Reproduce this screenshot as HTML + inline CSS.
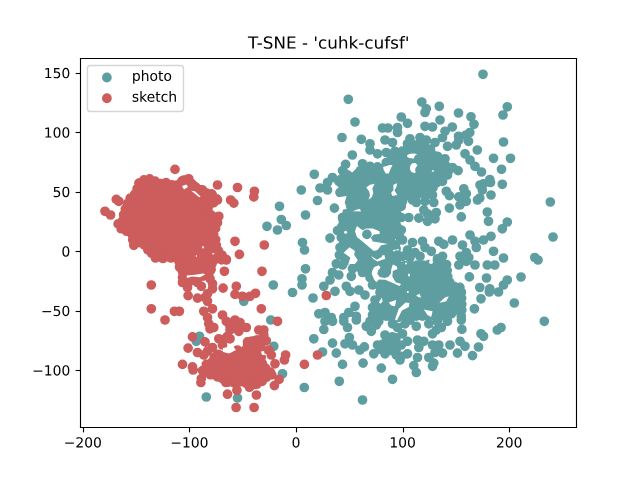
<!DOCTYPE html>
<html><head><meta charset="utf-8"><style>html,body{margin:0;padding:0;background:#fff;width:640px;height:480px;overflow:hidden;font-family:"Liberation Sans",sans-serif;}svg{display:block}</style></head><body>
<svg width="640" height="480" viewBox="0 0 460.8 345.6" version="1.1">
<defs>
<style type="text/css">*{stroke-linejoin: round; stroke-linecap: butt}</style>
</defs>
<g id="figure_1">
<g id="patch_1">
<path d="M 0 345.6 
L 460.8 345.6 
L 460.8 0 
L 0 0 
z
" style="fill: #ffffff"/>
</g>
<g id="axes_1">
<g id="patch_2">
<path d="M 57.6 307.584 
L 414.72 307.584 
L 414.72 41.472 
L 57.6 41.472 
z
" style="fill: #ffffff"/>
</g>
<g transform="scale(0.72)"><path d="M397.2 154.5 L396.9 154.7 L396.5 154.9 L396.2 155 L395.8 155.1 L395.5 155.2 L390.2 155.9 L390.2 162.3 L390.2 162.7 L390.1 163.2 L390 163.6 L389.9 164 L389.7 164.3 L389.5 164.7 L389.2 165 L388.9 165.3 L388.6 165.6 L388.2 165.9 L387.9 166.1 L379.3 170.4 L379 170.5 L378.6 170.6 L378.2 170.7 L377.9 170.8 L377.5 170.8 L377.1 170.8 L369.7 170.2 L369.2 170.1 L368.7 170 L364.1 168.4 L360.8 173.4 L360.6 173.7 L360.3 174 L360 174.3 L359.7 174.5 L359.3 174.7 L358.9 174.9 L358.5 175.1 L350.7 177.5 L350.2 177.6 L349.8 177.7 L349.4 177.7 L348.9 177.6 L348.5 177.6 L348.1 177.5 L347.7 177.3 L343.7 175.5 L341.2 178.9 L343.5 190.2 L347.2 192.8 L347.5 193 L347.8 193.3 L351.6 197.1 L351.9 197.4 L352.1 197.7 L352.4 198.1 L352.5 198.5 L352.7 198.8 L352.8 199.2 L352.8 199.6 L352.9 200 L352.8 200.4 L352.8 200.8 L352.7 201.2 L350.8 208 L350.6 208.4 L350.4 208.8 L350.2 209.2 L346.3 215.1 L342.8 221.3 L341.4 230.6 L343.9 246.9 L343.9 247.4 L343.9 247.8 L343.3 255.2 L343.3 256.1 L372.6 256.1 L373 256.1 L373.4 256.2 L373.8 256.3 L374.2 256.4 L374.6 256.6 L374.9 256.8 L375.3 257 L375.6 257.3 L375.8 257.6 L376.1 257.9 L376.3 258.3 L376.5 258.7 L376.6 259 L376.7 259.4 L376.8 259.8 L376.8 260.2 L376.8 260.7 L376.7 261.1 L376.7 261.5 L376.5 261.8 L376.4 262.2 L376.2 262.6 L375.9 262.9 L375.6 263.2 L375.3 263.5 L375 263.7 L374.7 264 L374.3 264.1 L373.9 264.3 L373.5 264.4 L373.1 264.5 L372.7 264.5 L354.2 265 L354.7 265.4 L363.8 268.8 L364.3 269 L364.7 269.3 L372.1 274.2 L372.4 274.4 L372.7 274.7 L373 275 L373.2 275.3 L373.4 275.6 L373.6 276 L373.7 276.4 L375.9 282.9 L382.6 289.6 L382.9 289.9 L383.1 290.2 L383.3 290.6 L383.5 290.9 L383.6 291.3 L383.7 291.7 L383.8 292.1 L383.8 292.5 L383.8 292.9 L383.7 293.4 L383.6 293.8 L383.5 294.1 L383.3 294.5 L383.1 294.9 L378.5 301.7 L376.4 308.1 L376.4 316.1 L449.9 316.1 L452.7 312 L452.9 311.6 L453.2 311.3 L453.5 311.1 L453.8 310.8 L454.2 310.6 L454.6 310.4 L454.9 310.3 L455.3 310.2 L455.7 310.1 L456.2 310.1 L462 310.1 L461.2 287.5 L455.7 286.9 L455.3 286.8 L454.9 286.7 L454.5 286.6 L454.1 286.4 L453.8 286.2 L453.5 286 L453.2 285.7 L449.3 281.8 L449 281.5 L448.8 281.2 L448.6 280.9 L448.4 280.5 L448.3 280.1 L448.2 279.7 L448.1 279.3 L446.5 264 L400.5 265.9 L400 265.9 L399.6 265.8 L399.2 265.7 L398.8 265.6 L398.4 265.4 L398.1 265.2 L397.7 265 L397.4 264.7 L397.1 264.4 L396.8 264.1 L396.6 263.7 L396.4 263.3 L396.3 262.9 L396.2 262.5 L396.1 262.1 L396.1 261.7 L396.1 200.3 L396.1 199.9 L396.2 199.5 L396.3 199.1 L396.4 198.7 L396.6 198.3 L396.8 198 L397.1 197.6 L397.3 197.3 L397.6 197.1 L398 196.8 L398.3 196.6 L398.7 196.4 L399.1 196.3 L399.5 196.2 L399.9 196.1 L400.3 196.1 L412 196.1 L430.2 191.6 L439.3 179 L439.4 178.9 L444.4 172.6 L444.7 172.3 L445 172 L445.3 171.8 L445.7 171.6 L446.1 171.4 L449.5 170 L442.7 162.2 L436.4 160 L436 159.9 L435.7 159.7 L435.3 159.5 L435 159.3 L434.7 159 L434.4 158.7 L434.2 158.3 L434 158 L433.8 157.6 L429.9 147.7 L408.5 147.7 L402.4 151.2 L402.2 151.3 L402.1 151.3 L402 151.3 L397.2 154.5Z" fill="#5f9ea0"/><path d="M397.2 154.5m-4.86 0a4.86 4.86 0 1 0 9.72 0a4.86 4.86 0 1 0-9.72 0M391.3 155.7m-4.86 0a4.86 4.86 0 1 0 9.72 0a4.86 4.86 0 1 0-9.72 0M390.2 160.8m-4.86 0a4.86 4.86 0 1 0 9.72 0a4.86 4.86 0 1 0-9.72 0M388 166m-4.86 0a4.86 4.86 0 1 0 9.72 0a4.86 4.86 0 1 0-9.72 0M382.6 168.7m-4.86 0a4.86 4.86 0 1 0 9.72 0a4.86 4.86 0 1 0-9.72 0M377.1 170.8m-4.86 0a4.86 4.86 0 1 0 9.72 0a4.86 4.86 0 1 0-9.72 0M371.1 170.3m-4.86 0a4.86 4.86 0 1 0 9.72 0a4.86 4.86 0 1 0-9.72 0M365.2 168.8m-4.86 0a4.86 4.86 0 1 0 9.72 0a4.86 4.86 0 1 0-9.72 0M361.4 172.5m-4.86 0a4.86 4.86 0 1 0 9.72 0a4.86 4.86 0 1 0-9.72 0M356.6 175.7m-4.86 0a4.86 4.86 0 1 0 9.72 0a4.86 4.86 0 1 0-9.72 0M350.8 177.4m-4.86 0a4.86 4.86 0 1 0 9.72 0a4.86 4.86 0 1 0-9.72 0M345.1 176.1m-4.86 0a4.86 4.86 0 1 0 9.72 0a4.86 4.86 0 1 0-9.72 0M341.2 179.1m-4.86 0a4.86 4.86 0 1 0 9.72 0a4.86 4.86 0 1 0-9.72 0M342.4 185m-4.86 0a4.86 4.86 0 1 0 9.72 0a4.86 4.86 0 1 0-9.72 0M344.1 190.6m-4.86 0a4.86 4.86 0 1 0 9.72 0a4.86 4.86 0 1 0-9.72 0M348.8 194.3m-4.86 0a4.86 4.86 0 1 0 9.72 0a4.86 4.86 0 1 0-9.72 0M352.7 198.9m-4.86 0a4.86 4.86 0 1 0 9.72 0a4.86 4.86 0 1 0-9.72 0M351.7 204.7m-4.86 0a4.86 4.86 0 1 0 9.72 0a4.86 4.86 0 1 0-9.72 0M349.5 210.3m-4.86 0a4.86 4.86 0 1 0 9.72 0a4.86 4.86 0 1 0-9.72 0M346.2 215.3m-4.86 0a4.86 4.86 0 1 0 9.72 0a4.86 4.86 0 1 0-9.72 0M343.2 220.6m-4.86 0a4.86 4.86 0 1 0 9.72 0a4.86 4.86 0 1 0-9.72 0M342 226.4m-4.86 0a4.86 4.86 0 1 0 9.72 0a4.86 4.86 0 1 0-9.72 0M341.7 232.4m-4.86 0a4.86 4.86 0 1 0 9.72 0a4.86 4.86 0 1 0-9.72 0M342.6 238.4m-4.86 0a4.86 4.86 0 1 0 9.72 0a4.86 4.86 0 1 0-9.72 0M343.5 244.3m-4.86 0a4.86 4.86 0 1 0 9.72 0a4.86 4.86 0 1 0-9.72 0M343.7 250.3m-4.86 0a4.86 4.86 0 1 0 9.72 0a4.86 4.86 0 1 0-9.72 0M343.5 256.1m-4.86 0a4.86 4.86 0 1 0 9.72 0a4.86 4.86 0 1 0-9.72 0M349.6 256.1m-4.86 0a4.86 4.86 0 1 0 9.72 0a4.86 4.86 0 1 0-9.72 0M355.6 256.1m-4.86 0a4.86 4.86 0 1 0 9.72 0a4.86 4.86 0 1 0-9.72 0M361.6 256.1m-4.86 0a4.86 4.86 0 1 0 9.72 0a4.86 4.86 0 1 0-9.72 0M367.6 256.1m-4.86 0a4.86 4.86 0 1 0 9.72 0a4.86 4.86 0 1 0-9.72 0M373.7 256.2m-4.86 0a4.86 4.86 0 1 0 9.72 0a4.86 4.86 0 1 0-9.72 0M376.8 260.8m-4.86 0a4.86 4.86 0 1 0 9.72 0a4.86 4.86 0 1 0-9.72 0M372.7 264.5m-4.86 0a4.86 4.86 0 1 0 9.72 0a4.86 4.86 0 1 0-9.72 0M366.7 264.7m-4.86 0a4.86 4.86 0 1 0 9.72 0a4.86 4.86 0 1 0-9.72 0M360.6 264.8m-4.86 0a4.86 4.86 0 1 0 9.72 0a4.86 4.86 0 1 0-9.72 0M354.6 265m-4.86 0a4.86 4.86 0 1 0 9.72 0a4.86 4.86 0 1 0-9.72 0M359.3 267.2m-4.86 0a4.86 4.86 0 1 0 9.72 0a4.86 4.86 0 1 0-9.72 0M364.9 269.4m-4.86 0a4.86 4.86 0 1 0 9.72 0a4.86 4.86 0 1 0-9.72 0M369.9 272.7m-4.86 0a4.86 4.86 0 1 0 9.72 0a4.86 4.86 0 1 0-9.72 0M373.9 277m-4.86 0a4.86 4.86 0 1 0 9.72 0a4.86 4.86 0 1 0-9.72 0M375.8 282.7m-4.86 0a4.86 4.86 0 1 0 9.72 0a4.86 4.86 0 1 0-9.72 0M380 287m-4.86 0a4.86 4.86 0 1 0 9.72 0a4.86 4.86 0 1 0-9.72 0M383.7 291.6m-4.86 0a4.86 4.86 0 1 0 9.72 0a4.86 4.86 0 1 0-9.72 0M381.6 297.1m-4.86 0a4.86 4.86 0 1 0 9.72 0a4.86 4.86 0 1 0-9.72 0M378.4 302.1m-4.86 0a4.86 4.86 0 1 0 9.72 0a4.86 4.86 0 1 0-9.72 0M376.5 307.9m-4.86 0a4.86 4.86 0 1 0 9.72 0a4.86 4.86 0 1 0-9.72 0M376.4 313.9m-4.86 0a4.86 4.86 0 1 0 9.72 0a4.86 4.86 0 1 0-9.72 0M380.2 316.1m-4.86 0a4.86 4.86 0 1 0 9.72 0a4.86 4.86 0 1 0-9.72 0M386.2 316.1m-4.86 0a4.86 4.86 0 1 0 9.72 0a4.86 4.86 0 1 0-9.72 0M392.3 316.1m-4.86 0a4.86 4.86 0 1 0 9.72 0a4.86 4.86 0 1 0-9.72 0M398.3 316.1m-4.86 0a4.86 4.86 0 1 0 9.72 0a4.86 4.86 0 1 0-9.72 0M404.3 316.1m-4.86 0a4.86 4.86 0 1 0 9.72 0a4.86 4.86 0 1 0-9.72 0M410.4 316.1m-4.86 0a4.86 4.86 0 1 0 9.72 0a4.86 4.86 0 1 0-9.72 0M416.4 316.1m-4.86 0a4.86 4.86 0 1 0 9.72 0a4.86 4.86 0 1 0-9.72 0M422.4 316.1m-4.86 0a4.86 4.86 0 1 0 9.72 0a4.86 4.86 0 1 0-9.72 0M428.4 316.1m-4.86 0a4.86 4.86 0 1 0 9.72 0a4.86 4.86 0 1 0-9.72 0M434.5 316.1m-4.86 0a4.86 4.86 0 1 0 9.72 0a4.86 4.86 0 1 0-9.72 0M440.5 316.1m-4.86 0a4.86 4.86 0 1 0 9.72 0a4.86 4.86 0 1 0-9.72 0M446.5 316.1m-4.86 0a4.86 4.86 0 1 0 9.72 0a4.86 4.86 0 1 0-9.72 0M451.4 313.9m-4.86 0a4.86 4.86 0 1 0 9.72 0a4.86 4.86 0 1 0-9.72 0M455.7 310.1m-4.86 0a4.86 4.86 0 1 0 9.72 0a4.86 4.86 0 1 0-9.72 0M461.8 310.1m-4.86 0a4.86 4.86 0 1 0 9.72 0a4.86 4.86 0 1 0-9.72 0M461.8 304.3m-4.86 0a4.86 4.86 0 1 0 9.72 0a4.86 4.86 0 1 0-9.72 0M461.6 298.2m-4.86 0a4.86 4.86 0 1 0 9.72 0a4.86 4.86 0 1 0-9.72 0M461.4 292.2m-4.86 0a4.86 4.86 0 1 0 9.72 0a4.86 4.86 0 1 0-9.72 0M459.9 287.4m-4.86 0a4.86 4.86 0 1 0 9.72 0a4.86 4.86 0 1 0-9.72 0M454 286.3m-4.86 0a4.86 4.86 0 1 0 9.72 0a4.86 4.86 0 1 0-9.72 0M449.7 282.2m-4.86 0a4.86 4.86 0 1 0 9.72 0a4.86 4.86 0 1 0-9.72 0M447.8 276.6m-4.86 0a4.86 4.86 0 1 0 9.72 0a4.86 4.86 0 1 0-9.72 0M447.2 270.6m-4.86 0a4.86 4.86 0 1 0 9.72 0a4.86 4.86 0 1 0-9.72 0M446.6 264.6m-4.86 0a4.86 4.86 0 1 0 9.72 0a4.86 4.86 0 1 0-9.72 0M441.1 264.3m-4.86 0a4.86 4.86 0 1 0 9.72 0a4.86 4.86 0 1 0-9.72 0M435 264.5m-4.86 0a4.86 4.86 0 1 0 9.72 0a4.86 4.86 0 1 0-9.72 0M429 264.7m-4.86 0a4.86 4.86 0 1 0 9.72 0a4.86 4.86 0 1 0-9.72 0M423 265m-4.86 0a4.86 4.86 0 1 0 9.72 0a4.86 4.86 0 1 0-9.72 0M417 265.2m-4.86 0a4.86 4.86 0 1 0 9.72 0a4.86 4.86 0 1 0-9.72 0M410.9 265.5m-4.86 0a4.86 4.86 0 1 0 9.72 0a4.86 4.86 0 1 0-9.72 0M404.9 265.7m-4.86 0a4.86 4.86 0 1 0 9.72 0a4.86 4.86 0 1 0-9.72 0M398.9 265.7m-4.86 0a4.86 4.86 0 1 0 9.72 0a4.86 4.86 0 1 0-9.72 0M396.1 260.9m-4.86 0a4.86 4.86 0 1 0 9.72 0a4.86 4.86 0 1 0-9.72 0M396.1 254.8m-4.86 0a4.86 4.86 0 1 0 9.72 0a4.86 4.86 0 1 0-9.72 0M396.1 248.8m-4.86 0a4.86 4.86 0 1 0 9.72 0a4.86 4.86 0 1 0-9.72 0M396.1 242.8m-4.86 0a4.86 4.86 0 1 0 9.72 0a4.86 4.86 0 1 0-9.72 0M396.1 236.7m-4.86 0a4.86 4.86 0 1 0 9.72 0a4.86 4.86 0 1 0-9.72 0M396.1 230.7m-4.86 0a4.86 4.86 0 1 0 9.72 0a4.86 4.86 0 1 0-9.72 0M396.1 224.7m-4.86 0a4.86 4.86 0 1 0 9.72 0a4.86 4.86 0 1 0-9.72 0M396.1 218.6m-4.86 0a4.86 4.86 0 1 0 9.72 0a4.86 4.86 0 1 0-9.72 0M396.1 212.6m-4.86 0a4.86 4.86 0 1 0 9.72 0a4.86 4.86 0 1 0-9.72 0M396.1 206.6m-4.86 0a4.86 4.86 0 1 0 9.72 0a4.86 4.86 0 1 0-9.72 0M396.1 200.6m-4.86 0a4.86 4.86 0 1 0 9.72 0a4.86 4.86 0 1 0-9.72 0M399.5 196.2m-4.86 0a4.86 4.86 0 1 0 9.72 0a4.86 4.86 0 1 0-9.72 0M405.5 196.1m-4.86 0a4.86 4.86 0 1 0 9.72 0a4.86 4.86 0 1 0-9.72 0M411.5 196.1m-4.86 0a4.86 4.86 0 1 0 9.72 0a4.86 4.86 0 1 0-9.72 0M417.4 194.8m-4.86 0a4.86 4.86 0 1 0 9.72 0a4.86 4.86 0 1 0-9.72 0M423.2 193.3m-4.86 0a4.86 4.86 0 1 0 9.72 0a4.86 4.86 0 1 0-9.72 0M429.1 191.8m-4.86 0a4.86 4.86 0 1 0 9.72 0a4.86 4.86 0 1 0-9.72 0M433.1 187.6m-4.86 0a4.86 4.86 0 1 0 9.72 0a4.86 4.86 0 1 0-9.72 0M436.6 182.7m-4.86 0a4.86 4.86 0 1 0 9.72 0a4.86 4.86 0 1 0-9.72 0M440.2 177.9m-4.86 0a4.86 4.86 0 1 0 9.72 0a4.86 4.86 0 1 0-9.72 0M444 173.2m-4.86 0a4.86 4.86 0 1 0 9.72 0a4.86 4.86 0 1 0-9.72 0M449.1 170.1m-4.86 0a4.86 4.86 0 1 0 9.72 0a4.86 4.86 0 1 0-9.72 0M445.8 165.7m-4.86 0a4.86 4.86 0 1 0 9.72 0a4.86 4.86 0 1 0-9.72 0M441.5 161.7m-4.86 0a4.86 4.86 0 1 0 9.72 0a4.86 4.86 0 1 0-9.72 0M435.8 159.8m-4.86 0a4.86 4.86 0 1 0 9.72 0a4.86 4.86 0 1 0-9.72 0M432.7 154.8m-4.86 0a4.86 4.86 0 1 0 9.72 0a4.86 4.86 0 1 0-9.72 0M430.5 149.2m-4.86 0a4.86 4.86 0 1 0 9.72 0a4.86 4.86 0 1 0-9.72 0M425.4 147.7m-4.86 0a4.86 4.86 0 1 0 9.72 0a4.86 4.86 0 1 0-9.72 0M419.4 147.7m-4.86 0a4.86 4.86 0 1 0 9.72 0a4.86 4.86 0 1 0-9.72 0M413.4 147.7m-4.86 0a4.86 4.86 0 1 0 9.72 0a4.86 4.86 0 1 0-9.72 0M407.5 148.3m-4.86 0a4.86 4.86 0 1 0 9.72 0a4.86 4.86 0 1 0-9.72 0M402.2 151.2m-4.86 0a4.86 4.86 0 1 0 9.72 0a4.86 4.86 0 1 0-9.72 0" fill="#5f9ea0"/><path d="M385 349.9 L385.4 349.9 L396.1 351.1 L396.1 335.7 L387.3 338.4 L380.9 347 L379.7 349.9 L385 349.9Z" fill="#5f9ea0"/><path d="M385 349.9m-4.86 0a4.86 4.86 0 1 0 9.72 0a4.86 4.86 0 1 0-9.72 0M391 350.5m-4.86 0a4.86 4.86 0 1 0 9.72 0a4.86 4.86 0 1 0-9.72 0M396.1 350m-4.86 0a4.86 4.86 0 1 0 9.72 0a4.86 4.86 0 1 0-9.72 0M396.1 343.9m-4.86 0a4.86 4.86 0 1 0 9.72 0a4.86 4.86 0 1 0-9.72 0M396.1 337.8m-4.86 0a4.86 4.86 0 1 0 9.72 0a4.86 4.86 0 1 0-9.72 0M392.3 336.9m-4.86 0a4.86 4.86 0 1 0 9.72 0a4.86 4.86 0 1 0-9.72 0M386.8 339.1m-4.86 0a4.86 4.86 0 1 0 9.72 0a4.86 4.86 0 1 0-9.72 0M383.1 344m-4.86 0a4.86 4.86 0 1 0 9.72 0a4.86 4.86 0 1 0-9.72 0M380 349.2m-4.86 0a4.86 4.86 0 1 0 9.72 0a4.86 4.86 0 1 0-9.72 0" fill="#5f9ea0"/><ellipse cx="431" cy="262" rx="2" ry="2" fill="#fff"/><ellipse cx="406.3" cy="305" rx="1.5" ry="1.5" fill="#fff"/><ellipse cx="413" cy="156" rx="6" ry="2.5" fill="#fff"/><ellipse cx="414" cy="168" rx="4" ry="5" fill="#fff"/><ellipse cx="433" cy="175" rx="1.5" ry="5" fill="#fff"/><ellipse cx="345.6" cy="232.2" rx="1.5" ry="1.5" fill="#fff"/><ellipse cx="396" cy="238.7" rx="1" ry="2.5" fill="#fff"/><ellipse cx="397.2" cy="250" rx="2" ry="1" fill="#fff"/><ellipse cx="383" cy="256.6" rx="1" ry="1.5" fill="#fff"/><ellipse cx="395" cy="250.6" rx="2" ry="1.5" fill="#fff"/><ellipse cx="406" cy="263.4" rx="1" ry="1" fill="#fff"/><ellipse cx="409" cy="275" rx="1" ry="1.5" fill="#fff"/><ellipse cx="407.8" cy="292" rx="1" ry="1" fill="#fff"/><path d="M348.3 99.3m-4.86 0a4.86 4.86 0 1 0 9.72 0a4.86 4.86 0 1 0-9.72 0M355 122m-4.86 0a4.86 4.86 0 1 0 9.72 0a4.86 4.86 0 1 0-9.72 0M342 137.5m-4.86 0a4.86 4.86 0 1 0 9.72 0a4.86 4.86 0 1 0-9.72 0M361.3 139.3m-4.86 0a4.86 4.86 0 1 0 9.72 0a4.86 4.86 0 1 0-9.72 0M314.3 174.3m-4.86 0a4.86 4.86 0 1 0 9.72 0a4.86 4.86 0 1 0-9.72 0M382.5 128m-4.86 0a4.86 4.86 0 1 0 9.72 0a4.86 4.86 0 1 0-9.72 0M388 128m-4.86 0a4.86 4.86 0 1 0 9.72 0a4.86 4.86 0 1 0-9.72 0M385 140m-4.86 0a4.86 4.86 0 1 0 9.72 0a4.86 4.86 0 1 0-9.72 0M392.5 142.5m-4.86 0a4.86 4.86 0 1 0 9.72 0a4.86 4.86 0 1 0-9.72 0M401.3 117m-4.86 0a4.86 4.86 0 1 0 9.72 0a4.86 4.86 0 1 0-9.72 0M407.5 123.3m-4.86 0a4.86 4.86 0 1 0 9.72 0a4.86 4.86 0 1 0-9.72 0M397.5 127.5m-4.86 0a4.86 4.86 0 1 0 9.72 0a4.86 4.86 0 1 0-9.72 0M397.5 132.5m-4.86 0a4.86 4.86 0 1 0 9.72 0a4.86 4.86 0 1 0-9.72 0M421.8 102m-4.86 0a4.86 4.86 0 1 0 9.72 0a4.86 4.86 0 1 0-9.72 0M426.3 108.8m-4.86 0a4.86 4.86 0 1 0 9.72 0a4.86 4.86 0 1 0-9.72 0M425 112.5m-4.86 0a4.86 4.86 0 1 0 9.72 0a4.86 4.86 0 1 0-9.72 0M439.3 106.3m-4.86 0a4.86 4.86 0 1 0 9.72 0a4.86 4.86 0 1 0-9.72 0M440 120m-4.86 0a4.86 4.86 0 1 0 9.72 0a4.86 4.86 0 1 0-9.72 0M425 126.3m-4.86 0a4.86 4.86 0 1 0 9.72 0a4.86 4.86 0 1 0-9.72 0M432.5 127m-4.86 0a4.86 4.86 0 1 0 9.72 0a4.86 4.86 0 1 0-9.72 0M445 131.3m-4.86 0a4.86 4.86 0 1 0 9.72 0a4.86 4.86 0 1 0-9.72 0M442.5 137.5m-4.86 0a4.86 4.86 0 1 0 9.72 0a4.86 4.86 0 1 0-9.72 0M420 137.5m-4.86 0a4.86 4.86 0 1 0 9.72 0a4.86 4.86 0 1 0-9.72 0M410 138.8m-4.86 0a4.86 4.86 0 1 0 9.72 0a4.86 4.86 0 1 0-9.72 0M426.3 140m-4.86 0a4.86 4.86 0 1 0 9.72 0a4.86 4.86 0 1 0-9.72 0M435 142.5m-4.86 0a4.86 4.86 0 1 0 9.72 0a4.86 4.86 0 1 0-9.72 0M483 74.3m-4.86 0a4.86 4.86 0 1 0 9.72 0a4.86 4.86 0 1 0-9.72 0M458.5 113m-4.86 0a4.86 4.86 0 1 0 9.72 0a4.86 4.86 0 1 0-9.72 0M471 116.8m-4.86 0a4.86 4.86 0 1 0 9.72 0a4.86 4.86 0 1 0-9.72 0M474 124.3m-4.86 0a4.86 4.86 0 1 0 9.72 0a4.86 4.86 0 1 0-9.72 0M507.3 106.8m-4.86 0a4.86 4.86 0 1 0 9.72 0a4.86 4.86 0 1 0-9.72 0M503 115m-4.86 0a4.86 4.86 0 1 0 9.72 0a4.86 4.86 0 1 0-9.72 0M452.3 127m-4.86 0a4.86 4.86 0 1 0 9.72 0a4.86 4.86 0 1 0-9.72 0M458.5 136.3m-4.86 0a4.86 4.86 0 1 0 9.72 0a4.86 4.86 0 1 0-9.72 0M466 135m-4.86 0a4.86 4.86 0 1 0 9.72 0a4.86 4.86 0 1 0-9.72 0M469.8 132.5m-4.86 0a4.86 4.86 0 1 0 9.72 0a4.86 4.86 0 1 0-9.72 0M468.5 141.3m-4.86 0a4.86 4.86 0 1 0 9.72 0a4.86 4.86 0 1 0-9.72 0M477.3 150m-4.86 0a4.86 4.86 0 1 0 9.72 0a4.86 4.86 0 1 0-9.72 0M481.5 172m-4.86 0a4.86 4.86 0 1 0 9.72 0a4.86 4.86 0 1 0-9.72 0M503.5 142m-4.86 0a4.86 4.86 0 1 0 9.72 0a4.86 4.86 0 1 0-9.72 0M493.5 158.3m-4.86 0a4.86 4.86 0 1 0 9.72 0a4.86 4.86 0 1 0-9.72 0M510.5 158.3m-4.86 0a4.86 4.86 0 1 0 9.72 0a4.86 4.86 0 1 0-9.72 0M501.5 169.3m-4.86 0a4.86 4.86 0 1 0 9.72 0a4.86 4.86 0 1 0-9.72 0M489.8 179.5m-4.86 0a4.86 4.86 0 1 0 9.72 0a4.86 4.86 0 1 0-9.72 0M301.3 190m-4.86 0a4.86 4.86 0 1 0 9.72 0a4.86 4.86 0 1 0-9.72 0M317.5 200.5m-4.86 0a4.86 4.86 0 1 0 9.72 0a4.86 4.86 0 1 0-9.72 0M320 188m-4.86 0a4.86 4.86 0 1 0 9.72 0a4.86 4.86 0 1 0-9.72 0M305.5 215m-4.86 0a4.86 4.86 0 1 0 9.72 0a4.86 4.86 0 1 0-9.72 0M302.5 242.5m-4.86 0a4.86 4.86 0 1 0 9.72 0a4.86 4.86 0 1 0-9.72 0M304.5 250m-4.86 0a4.86 4.86 0 1 0 9.72 0a4.86 4.86 0 1 0-9.72 0M305.5 268.8m-4.86 0a4.86 4.86 0 1 0 9.72 0a4.86 4.86 0 1 0-9.72 0M302 278.8m-4.86 0a4.86 4.86 0 1 0 9.72 0a4.86 4.86 0 1 0-9.72 0M302 285m-4.86 0a4.86 4.86 0 1 0 9.72 0a4.86 4.86 0 1 0-9.72 0M323.8 286.3m-4.86 0a4.86 4.86 0 1 0 9.72 0a4.86 4.86 0 1 0-9.72 0M279.5 206.3m-4.86 0a4.86 4.86 0 1 0 9.72 0a4.86 4.86 0 1 0-9.72 0M281.3 219.5m-4.86 0a4.86 4.86 0 1 0 9.72 0a4.86 4.86 0 1 0-9.72 0M286.3 225.5m-4.86 0a4.86 4.86 0 1 0 9.72 0a4.86 4.86 0 1 0-9.72 0M277.5 230m-4.86 0a4.86 4.86 0 1 0 9.72 0a4.86 4.86 0 1 0-9.72 0M267 226.3m-4.86 0a4.86 4.86 0 1 0 9.72 0a4.86 4.86 0 1 0-9.72 0M273.3 285m-4.86 0a4.86 4.86 0 1 0 9.72 0a4.86 4.86 0 1 0-9.72 0M292.5 292.5m-4.86 0a4.86 4.86 0 1 0 9.72 0a4.86 4.86 0 1 0-9.72 0M313 298m-4.86 0a4.86 4.86 0 1 0 9.72 0a4.86 4.86 0 1 0-9.72 0M243.8 301.3m-4.86 0a4.86 4.86 0 1 0 9.72 0a4.86 4.86 0 1 0-9.72 0M270.8 320m-4.86 0a4.86 4.86 0 1 0 9.72 0a4.86 4.86 0 1 0-9.72 0M199.5 336.3m-4.86 0a4.86 4.86 0 1 0 9.72 0a4.86 4.86 0 1 0-9.72 0M313.8 338.8m-4.86 0a4.86 4.86 0 1 0 9.72 0a4.86 4.86 0 1 0-9.72 0M318.8 313.8m-4.86 0a4.86 4.86 0 1 0 9.72 0a4.86 4.86 0 1 0-9.72 0M502.3 184.3m-4.86 0a4.86 4.86 0 1 0 9.72 0a4.86 4.86 0 1 0-9.72 0M483.5 183.8m-4.86 0a4.86 4.86 0 1 0 9.72 0a4.86 4.86 0 1 0-9.72 0M490.5 182.5m-4.86 0a4.86 4.86 0 1 0 9.72 0a4.86 4.86 0 1 0-9.72 0M482.3 190m-4.86 0a4.86 4.86 0 1 0 9.72 0a4.86 4.86 0 1 0-9.72 0M491 195m-4.86 0a4.86 4.86 0 1 0 9.72 0a4.86 4.86 0 1 0-9.72 0M479.8 198m-4.86 0a4.86 4.86 0 1 0 9.72 0a4.86 4.86 0 1 0-9.72 0M487.3 212m-4.86 0a4.86 4.86 0 1 0 9.72 0a4.86 4.86 0 1 0-9.72 0M488.5 221.3m-4.86 0a4.86 4.86 0 1 0 9.72 0a4.86 4.86 0 1 0-9.72 0M507.3 222m-4.86 0a4.86 4.86 0 1 0 9.72 0a4.86 4.86 0 1 0-9.72 0M502.3 228.8m-4.86 0a4.86 4.86 0 1 0 9.72 0a4.86 4.86 0 1 0-9.72 0M550.3 202m-4.86 0a4.86 4.86 0 1 0 9.72 0a4.86 4.86 0 1 0-9.72 0M553 237m-4.86 0a4.86 4.86 0 1 0 9.72 0a4.86 4.86 0 1 0-9.72 0M534.8 257.5m-4.86 0a4.86 4.86 0 1 0 9.72 0a4.86 4.86 0 1 0-9.72 0M538 260m-4.86 0a4.86 4.86 0 1 0 9.72 0a4.86 4.86 0 1 0-9.72 0M521 277m-4.86 0a4.86 4.86 0 1 0 9.72 0a4.86 4.86 0 1 0-9.72 0M503.5 258m-4.86 0a4.86 4.86 0 1 0 9.72 0a4.86 4.86 0 1 0-9.72 0M493.5 251.3m-4.86 0a4.86 4.86 0 1 0 9.72 0a4.86 4.86 0 1 0-9.72 0M491 236.3m-4.86 0a4.86 4.86 0 1 0 9.72 0a4.86 4.86 0 1 0-9.72 0M483.5 240m-4.86 0a4.86 4.86 0 1 0 9.72 0a4.86 4.86 0 1 0-9.72 0M487.3 265m-4.86 0a4.86 4.86 0 1 0 9.72 0a4.86 4.86 0 1 0-9.72 0M494.8 265m-4.86 0a4.86 4.86 0 1 0 9.72 0a4.86 4.86 0 1 0-9.72 0M486.5 278m-4.86 0a4.86 4.86 0 1 0 9.72 0a4.86 4.86 0 1 0-9.72 0M507.3 280m-4.86 0a4.86 4.86 0 1 0 9.72 0a4.86 4.86 0 1 0-9.72 0M503.5 285m-4.86 0a4.86 4.86 0 1 0 9.72 0a4.86 4.86 0 1 0-9.72 0M479.8 287.5m-4.86 0a4.86 4.86 0 1 0 9.72 0a4.86 4.86 0 1 0-9.72 0M489.8 288.8m-4.86 0a4.86 4.86 0 1 0 9.72 0a4.86 4.86 0 1 0-9.72 0M323.8 329.5m-4.86 0a4.86 4.86 0 1 0 9.72 0a4.86 4.86 0 1 0-9.72 0M322.5 352m-4.86 0a4.86 4.86 0 1 0 9.72 0a4.86 4.86 0 1 0-9.72 0M392.5 379.3m-4.86 0a4.86 4.86 0 1 0 9.72 0a4.86 4.86 0 1 0-9.72 0M339.3 381.3m-4.86 0a4.86 4.86 0 1 0 9.72 0a4.86 4.86 0 1 0-9.72 0M304.3 387.5m-4.86 0a4.86 4.86 0 1 0 9.72 0a4.86 4.86 0 1 0-9.72 0M362.5 400m-4.86 0a4.86 4.86 0 1 0 9.72 0a4.86 4.86 0 1 0-9.72 0M544.3 321.3m-4.86 0a4.86 4.86 0 1 0 9.72 0a4.86 4.86 0 1 0-9.72 0M514.3 303m-4.86 0a4.86 4.86 0 1 0 9.72 0a4.86 4.86 0 1 0-9.72 0M501 327.5m-4.86 0a4.86 4.86 0 1 0 9.72 0a4.86 4.86 0 1 0-9.72 0M497.3 330m-4.86 0a4.86 4.86 0 1 0 9.72 0a4.86 4.86 0 1 0-9.72 0M483.5 336.3m-4.86 0a4.86 4.86 0 1 0 9.72 0a4.86 4.86 0 1 0-9.72 0M481 333.8m-4.86 0a4.86 4.86 0 1 0 9.72 0a4.86 4.86 0 1 0-9.72 0M478.5 347m-4.86 0a4.86 4.86 0 1 0 9.72 0a4.86 4.86 0 1 0-9.72 0M481 298.8m-4.86 0a4.86 4.86 0 1 0 9.72 0a4.86 4.86 0 1 0-9.72 0M489.3 292m-4.86 0a4.86 4.86 0 1 0 9.72 0a4.86 4.86 0 1 0-9.72 0M498.5 292m-4.86 0a4.86 4.86 0 1 0 9.72 0a4.86 4.86 0 1 0-9.72 0M196.3 341.3m-4.86 0a4.86 4.86 0 1 0 9.72 0a4.86 4.86 0 1 0-9.72 0M273.8 346.3m-4.86 0a4.86 4.86 0 1 0 9.72 0a4.86 4.86 0 1 0-9.72 0M282.5 373.8m-4.86 0a4.86 4.86 0 1 0 9.72 0a4.86 4.86 0 1 0-9.72 0M206.3 397m-4.86 0a4.86 4.86 0 1 0 9.72 0a4.86 4.86 0 1 0-9.72 0M237.5 398m-4.86 0a4.86 4.86 0 1 0 9.72 0a4.86 4.86 0 1 0-9.72 0M370 143.8m-4.86 0a4.86 4.86 0 1 0 9.72 0a4.86 4.86 0 1 0-9.72 0M370 150m-4.86 0a4.86 4.86 0 1 0 9.72 0a4.86 4.86 0 1 0-9.72 0M377.5 153.8m-4.86 0a4.86 4.86 0 1 0 9.72 0a4.86 4.86 0 1 0-9.72 0M386.3 152.5m-4.86 0a4.86 4.86 0 1 0 9.72 0a4.86 4.86 0 1 0-9.72 0M395 151.3m-4.86 0a4.86 4.86 0 1 0 9.72 0a4.86 4.86 0 1 0-9.72 0M386.3 162.5m-4.86 0a4.86 4.86 0 1 0 9.72 0a4.86 4.86 0 1 0-9.72 0M396.3 167.5m-4.86 0a4.86 4.86 0 1 0 9.72 0a4.86 4.86 0 1 0-9.72 0M352.3 155m-4.86 0a4.86 4.86 0 1 0 9.72 0a4.86 4.86 0 1 0-9.72 0M345.6 164.4m-4.86 0a4.86 4.86 0 1 0 9.72 0a4.86 4.86 0 1 0-9.72 0M342.5 170.6m-4.86 0a4.86 4.86 0 1 0 9.72 0a4.86 4.86 0 1 0-9.72 0M349.4 173.8m-4.86 0a4.86 4.86 0 1 0 9.72 0a4.86 4.86 0 1 0-9.72 0M362.5 163.8m-4.86 0a4.86 4.86 0 1 0 9.72 0a4.86 4.86 0 1 0-9.72 0M370 166.3m-4.86 0a4.86 4.86 0 1 0 9.72 0a4.86 4.86 0 1 0-9.72 0M377.5 166.9m-4.86 0a4.86 4.86 0 1 0 9.72 0a4.86 4.86 0 1 0-9.72 0M357.5 171.3m-4.86 0a4.86 4.86 0 1 0 9.72 0a4.86 4.86 0 1 0-9.72 0M332.5 177.5m-4.86 0a4.86 4.86 0 1 0 9.72 0a4.86 4.86 0 1 0-9.72 0M327.5 182.5m-4.86 0a4.86 4.86 0 1 0 9.72 0a4.86 4.86 0 1 0-9.72 0M327.5 190m-4.86 0a4.86 4.86 0 1 0 9.72 0a4.86 4.86 0 1 0-9.72 0M340 192.5m-4.86 0a4.86 4.86 0 1 0 9.72 0a4.86 4.86 0 1 0-9.72 0M338.8 181.3m-4.86 0a4.86 4.86 0 1 0 9.72 0a4.86 4.86 0 1 0-9.72 0M348.8 180m-4.86 0a4.86 4.86 0 1 0 9.72 0a4.86 4.86 0 1 0-9.72 0M357.5 178.8m-4.86 0a4.86 4.86 0 1 0 9.72 0a4.86 4.86 0 1 0-9.72 0M367.5 176.3m-4.86 0a4.86 4.86 0 1 0 9.72 0a4.86 4.86 0 1 0-9.72 0M377.5 175m-4.86 0a4.86 4.86 0 1 0 9.72 0a4.86 4.86 0 1 0-9.72 0M387.5 175m-4.86 0a4.86 4.86 0 1 0 9.72 0a4.86 4.86 0 1 0-9.72 0M395 177.5m-4.86 0a4.86 4.86 0 1 0 9.72 0a4.86 4.86 0 1 0-9.72 0M348.8 188.8m-4.86 0a4.86 4.86 0 1 0 9.72 0a4.86 4.86 0 1 0-9.72 0M357.5 187.5m-4.86 0a4.86 4.86 0 1 0 9.72 0a4.86 4.86 0 1 0-9.72 0M362.5 193.8m-4.86 0a4.86 4.86 0 1 0 9.72 0a4.86 4.86 0 1 0-9.72 0M351.3 196.3m-4.86 0a4.86 4.86 0 1 0 9.72 0a4.86 4.86 0 1 0-9.72 0M345 198.8m-4.86 0a4.86 4.86 0 1 0 9.72 0a4.86 4.86 0 1 0-9.72 0M380 187.5m-4.86 0a4.86 4.86 0 1 0 9.72 0a4.86 4.86 0 1 0-9.72 0M377.5 195m-4.86 0a4.86 4.86 0 1 0 9.72 0a4.86 4.86 0 1 0-9.72 0M387.5 192.5m-4.86 0a4.86 4.86 0 1 0 9.72 0a4.86 4.86 0 1 0-9.72 0M395 195m-4.86 0a4.86 4.86 0 1 0 9.72 0a4.86 4.86 0 1 0-9.72 0M387.5 185m-4.86 0a4.86 4.86 0 1 0 9.72 0a4.86 4.86 0 1 0-9.72 0M407.5 143.8m-4.86 0a4.86 4.86 0 1 0 9.72 0a4.86 4.86 0 1 0-9.72 0M415 145m-4.86 0a4.86 4.86 0 1 0 9.72 0a4.86 4.86 0 1 0-9.72 0M423.8 143.8m-4.86 0a4.86 4.86 0 1 0 9.72 0a4.86 4.86 0 1 0-9.72 0M447.5 146.3m-4.86 0a4.86 4.86 0 1 0 9.72 0a4.86 4.86 0 1 0-9.72 0M456.3 145m-4.86 0a4.86 4.86 0 1 0 9.72 0a4.86 4.86 0 1 0-9.72 0M458.8 140m-4.86 0a4.86 4.86 0 1 0 9.72 0a4.86 4.86 0 1 0-9.72 0M465 153.8m-4.86 0a4.86 4.86 0 1 0 9.72 0a4.86 4.86 0 1 0-9.72 0M470 160m-4.86 0a4.86 4.86 0 1 0 9.72 0a4.86 4.86 0 1 0-9.72 0M475 166.3m-4.86 0a4.86 4.86 0 1 0 9.72 0a4.86 4.86 0 1 0-9.72 0M402.5 152.5m-4.86 0a4.86 4.86 0 1 0 9.72 0a4.86 4.86 0 1 0-9.72 0M418.8 158.8m-4.86 0a4.86 4.86 0 1 0 9.72 0a4.86 4.86 0 1 0-9.72 0M427.5 152.5m-4.86 0a4.86 4.86 0 1 0 9.72 0a4.86 4.86 0 1 0-9.72 0M437.5 156.3m-4.86 0a4.86 4.86 0 1 0 9.72 0a4.86 4.86 0 1 0-9.72 0M445 158.8m-4.86 0a4.86 4.86 0 1 0 9.72 0a4.86 4.86 0 1 0-9.72 0M403.8 165m-4.86 0a4.86 4.86 0 1 0 9.72 0a4.86 4.86 0 1 0-9.72 0M420 170m-4.86 0a4.86 4.86 0 1 0 9.72 0a4.86 4.86 0 1 0-9.72 0M431.3 163.8m-4.86 0a4.86 4.86 0 1 0 9.72 0a4.86 4.86 0 1 0-9.72 0M441.3 165m-4.86 0a4.86 4.86 0 1 0 9.72 0a4.86 4.86 0 1 0-9.72 0M452.5 167.5m-4.86 0a4.86 4.86 0 1 0 9.72 0a4.86 4.86 0 1 0-9.72 0M458.1 170.6m-4.86 0a4.86 4.86 0 1 0 9.72 0a4.86 4.86 0 1 0-9.72 0M447.5 175m-4.86 0a4.86 4.86 0 1 0 9.72 0a4.86 4.86 0 1 0-9.72 0M442.5 181.3m-4.86 0a4.86 4.86 0 1 0 9.72 0a4.86 4.86 0 1 0-9.72 0M402.5 176.3m-4.86 0a4.86 4.86 0 1 0 9.72 0a4.86 4.86 0 1 0-9.72 0M411.3 178.8m-4.86 0a4.86 4.86 0 1 0 9.72 0a4.86 4.86 0 1 0-9.72 0M422.5 177.5m-4.86 0a4.86 4.86 0 1 0 9.72 0a4.86 4.86 0 1 0-9.72 0M433.8 176.3m-4.86 0a4.86 4.86 0 1 0 9.72 0a4.86 4.86 0 1 0-9.72 0M403.8 186.3m-4.86 0a4.86 4.86 0 1 0 9.72 0a4.86 4.86 0 1 0-9.72 0M415 185m-4.86 0a4.86 4.86 0 1 0 9.72 0a4.86 4.86 0 1 0-9.72 0M425 183.8m-4.86 0a4.86 4.86 0 1 0 9.72 0a4.86 4.86 0 1 0-9.72 0M432.5 186.3m-4.86 0a4.86 4.86 0 1 0 9.72 0a4.86 4.86 0 1 0-9.72 0M406.3 195m-4.86 0a4.86 4.86 0 1 0 9.72 0a4.86 4.86 0 1 0-9.72 0M416.3 193.8m-4.86 0a4.86 4.86 0 1 0 9.72 0a4.86 4.86 0 1 0-9.72 0M426.3 195m-4.86 0a4.86 4.86 0 1 0 9.72 0a4.86 4.86 0 1 0-9.72 0M432.5 195m-4.86 0a4.86 4.86 0 1 0 9.72 0a4.86 4.86 0 1 0-9.72 0M412.5 200m-4.86 0a4.86 4.86 0 1 0 9.72 0a4.86 4.86 0 1 0-9.72 0M446.3 191.3m-4.86 0a4.86 4.86 0 1 0 9.72 0a4.86 4.86 0 1 0-9.72 0M449.4 195.6m-4.86 0a4.86 4.86 0 1 0 9.72 0a4.86 4.86 0 1 0-9.72 0M463.8 188.8m-4.86 0a4.86 4.86 0 1 0 9.72 0a4.86 4.86 0 1 0-9.72 0M466.3 193.8m-4.86 0a4.86 4.86 0 1 0 9.72 0a4.86 4.86 0 1 0-9.72 0M458.8 196.9m-4.86 0a4.86 4.86 0 1 0 9.72 0a4.86 4.86 0 1 0-9.72 0M480 185m-4.86 0a4.86 4.86 0 1 0 9.72 0a4.86 4.86 0 1 0-9.72 0M334.4 208.1m-4.86 0a4.86 4.86 0 1 0 9.72 0a4.86 4.86 0 1 0-9.72 0M330 238.1m-4.86 0a4.86 4.86 0 1 0 9.72 0a4.86 4.86 0 1 0-9.72 0M342.5 217.5m-4.86 0a4.86 4.86 0 1 0 9.72 0a4.86 4.86 0 1 0-9.72 0M347.5 211.3m-4.86 0a4.86 4.86 0 1 0 9.72 0a4.86 4.86 0 1 0-9.72 0M350 203.8m-4.86 0a4.86 4.86 0 1 0 9.72 0a4.86 4.86 0 1 0-9.72 0M337.5 230.6m-4.86 0a4.86 4.86 0 1 0 9.72 0a4.86 4.86 0 1 0-9.72 0M341.3 237.5m-4.86 0a4.86 4.86 0 1 0 9.72 0a4.86 4.86 0 1 0-9.72 0M340 247.5m-4.86 0a4.86 4.86 0 1 0 9.72 0a4.86 4.86 0 1 0-9.72 0M339.4 255m-4.86 0a4.86 4.86 0 1 0 9.72 0a4.86 4.86 0 1 0-9.72 0M352.5 245m-4.86 0a4.86 4.86 0 1 0 9.72 0a4.86 4.86 0 1 0-9.72 0M351.3 236.3m-4.86 0a4.86 4.86 0 1 0 9.72 0a4.86 4.86 0 1 0-9.72 0M347.5 225m-4.86 0a4.86 4.86 0 1 0 9.72 0a4.86 4.86 0 1 0-9.72 0M357.5 220m-4.86 0a4.86 4.86 0 1 0 9.72 0a4.86 4.86 0 1 0-9.72 0M366.9 234.4m-4.86 0a4.86 4.86 0 1 0 9.72 0a4.86 4.86 0 1 0-9.72 0M357.5 250m-4.86 0a4.86 4.86 0 1 0 9.72 0a4.86 4.86 0 1 0-9.72 0M361.3 255m-4.86 0a4.86 4.86 0 1 0 9.72 0a4.86 4.86 0 1 0-9.72 0M367.5 252.5m-4.86 0a4.86 4.86 0 1 0 9.72 0a4.86 4.86 0 1 0-9.72 0M377.5 252.5m-4.86 0a4.86 4.86 0 1 0 9.72 0a4.86 4.86 0 1 0-9.72 0M385 247.5m-4.86 0a4.86 4.86 0 1 0 9.72 0a4.86 4.86 0 1 0-9.72 0M376.3 237.5m-4.86 0a4.86 4.86 0 1 0 9.72 0a4.86 4.86 0 1 0-9.72 0M385 238.8m-4.86 0a4.86 4.86 0 1 0 9.72 0a4.86 4.86 0 1 0-9.72 0M392.5 235m-4.86 0a4.86 4.86 0 1 0 9.72 0a4.86 4.86 0 1 0-9.72 0M395 245m-4.86 0a4.86 4.86 0 1 0 9.72 0a4.86 4.86 0 1 0-9.72 0M390 255m-4.86 0a4.86 4.86 0 1 0 9.72 0a4.86 4.86 0 1 0-9.72 0M397.5 255m-4.86 0a4.86 4.86 0 1 0 9.72 0a4.86 4.86 0 1 0-9.72 0M370 222.5m-4.86 0a4.86 4.86 0 1 0 9.72 0a4.86 4.86 0 1 0-9.72 0M380 225m-4.86 0a4.86 4.86 0 1 0 9.72 0a4.86 4.86 0 1 0-9.72 0M388.8 227.5m-4.86 0a4.86 4.86 0 1 0 9.72 0a4.86 4.86 0 1 0-9.72 0M397.5 227.5m-4.86 0a4.86 4.86 0 1 0 9.72 0a4.86 4.86 0 1 0-9.72 0M357.5 207.5m-4.86 0a4.86 4.86 0 1 0 9.72 0a4.86 4.86 0 1 0-9.72 0M367.5 212.5m-4.86 0a4.86 4.86 0 1 0 9.72 0a4.86 4.86 0 1 0-9.72 0M377.5 215m-4.86 0a4.86 4.86 0 1 0 9.72 0a4.86 4.86 0 1 0-9.72 0M387.5 215m-4.86 0a4.86 4.86 0 1 0 9.72 0a4.86 4.86 0 1 0-9.72 0M397.5 215m-4.86 0a4.86 4.86 0 1 0 9.72 0a4.86 4.86 0 1 0-9.72 0M362.5 202.5m-4.86 0a4.86 4.86 0 1 0 9.72 0a4.86 4.86 0 1 0-9.72 0M372.5 203.8m-4.86 0a4.86 4.86 0 1 0 9.72 0a4.86 4.86 0 1 0-9.72 0M382.5 205m-4.86 0a4.86 4.86 0 1 0 9.72 0a4.86 4.86 0 1 0-9.72 0M392.5 205m-4.86 0a4.86 4.86 0 1 0 9.72 0a4.86 4.86 0 1 0-9.72 0M352.5 218.8m-4.86 0a4.86 4.86 0 1 0 9.72 0a4.86 4.86 0 1 0-9.72 0M400 237.5m-4.86 0a4.86 4.86 0 1 0 9.72 0a4.86 4.86 0 1 0-9.72 0M401.3 206.3m-4.86 0a4.86 4.86 0 1 0 9.72 0a4.86 4.86 0 1 0-9.72 0M402.5 201.3m-4.86 0a4.86 4.86 0 1 0 9.72 0a4.86 4.86 0 1 0-9.72 0M416.3 202.5m-4.86 0a4.86 4.86 0 1 0 9.72 0a4.86 4.86 0 1 0-9.72 0M425 201.3m-4.86 0a4.86 4.86 0 1 0 9.72 0a4.86 4.86 0 1 0-9.72 0M433.8 202.5m-4.86 0a4.86 4.86 0 1 0 9.72 0a4.86 4.86 0 1 0-9.72 0M423.8 210m-4.86 0a4.86 4.86 0 1 0 9.72 0a4.86 4.86 0 1 0-9.72 0M436.3 212.5m-4.86 0a4.86 4.86 0 1 0 9.72 0a4.86 4.86 0 1 0-9.72 0M418.8 218.1m-4.86 0a4.86 4.86 0 1 0 9.72 0a4.86 4.86 0 1 0-9.72 0M427.5 221.3m-4.86 0a4.86 4.86 0 1 0 9.72 0a4.86 4.86 0 1 0-9.72 0M435 218.8m-4.86 0a4.86 4.86 0 1 0 9.72 0a4.86 4.86 0 1 0-9.72 0M427.5 213.8m-4.86 0a4.86 4.86 0 1 0 9.72 0a4.86 4.86 0 1 0-9.72 0M408.8 217.5m-4.86 0a4.86 4.86 0 1 0 9.72 0a4.86 4.86 0 1 0-9.72 0M401.3 217.5m-4.86 0a4.86 4.86 0 1 0 9.72 0a4.86 4.86 0 1 0-9.72 0M401.3 230m-4.86 0a4.86 4.86 0 1 0 9.72 0a4.86 4.86 0 1 0-9.72 0M449.4 208.1m-4.86 0a4.86 4.86 0 1 0 9.72 0a4.86 4.86 0 1 0-9.72 0M461.3 216.9m-4.86 0a4.86 4.86 0 1 0 9.72 0a4.86 4.86 0 1 0-9.72 0M460 205m-4.86 0a4.86 4.86 0 1 0 9.72 0a4.86 4.86 0 1 0-9.72 0M466.3 201.3m-4.86 0a4.86 4.86 0 1 0 9.72 0a4.86 4.86 0 1 0-9.72 0M477.5 200m-4.86 0a4.86 4.86 0 1 0 9.72 0a4.86 4.86 0 1 0-9.72 0M470 235m-4.86 0a4.86 4.86 0 1 0 9.72 0a4.86 4.86 0 1 0-9.72 0M475 241.3m-4.86 0a4.86 4.86 0 1 0 9.72 0a4.86 4.86 0 1 0-9.72 0M476.3 247.5m-4.86 0a4.86 4.86 0 1 0 9.72 0a4.86 4.86 0 1 0-9.72 0M462.5 245m-4.86 0a4.86 4.86 0 1 0 9.72 0a4.86 4.86 0 1 0-9.72 0M466.3 252.5m-4.86 0a4.86 4.86 0 1 0 9.72 0a4.86 4.86 0 1 0-9.72 0M460 256.3m-4.86 0a4.86 4.86 0 1 0 9.72 0a4.86 4.86 0 1 0-9.72 0M468.8 257.5m-4.86 0a4.86 4.86 0 1 0 9.72 0a4.86 4.86 0 1 0-9.72 0M452.5 240m-4.86 0a4.86 4.86 0 1 0 9.72 0a4.86 4.86 0 1 0-9.72 0M438.8 241.3m-4.86 0a4.86 4.86 0 1 0 9.72 0a4.86 4.86 0 1 0-9.72 0M443.8 244.4m-4.86 0a4.86 4.86 0 1 0 9.72 0a4.86 4.86 0 1 0-9.72 0M442.5 256.3m-4.86 0a4.86 4.86 0 1 0 9.72 0a4.86 4.86 0 1 0-9.72 0M437.5 258.8m-4.86 0a4.86 4.86 0 1 0 9.72 0a4.86 4.86 0 1 0-9.72 0M422.5 241.3m-4.86 0a4.86 4.86 0 1 0 9.72 0a4.86 4.86 0 1 0-9.72 0M431.3 251.3m-4.86 0a4.86 4.86 0 1 0 9.72 0a4.86 4.86 0 1 0-9.72 0M425 247.5m-4.86 0a4.86 4.86 0 1 0 9.72 0a4.86 4.86 0 1 0-9.72 0M402.5 240m-4.86 0a4.86 4.86 0 1 0 9.72 0a4.86 4.86 0 1 0-9.72 0M412.5 242.5m-4.86 0a4.86 4.86 0 1 0 9.72 0a4.86 4.86 0 1 0-9.72 0M407.5 250m-4.86 0a4.86 4.86 0 1 0 9.72 0a4.86 4.86 0 1 0-9.72 0M415 252.5m-4.86 0a4.86 4.86 0 1 0 9.72 0a4.86 4.86 0 1 0-9.72 0M420 256.3m-4.86 0a4.86 4.86 0 1 0 9.72 0a4.86 4.86 0 1 0-9.72 0M402.5 256.3m-4.86 0a4.86 4.86 0 1 0 9.72 0a4.86 4.86 0 1 0-9.72 0M410 257.5m-4.86 0a4.86 4.86 0 1 0 9.72 0a4.86 4.86 0 1 0-9.72 0M336.3 263.8m-4.86 0a4.86 4.86 0 1 0 9.72 0a4.86 4.86 0 1 0-9.72 0M345 261.3m-4.86 0a4.86 4.86 0 1 0 9.72 0a4.86 4.86 0 1 0-9.72 0M342.5 265m-4.86 0a4.86 4.86 0 1 0 9.72 0a4.86 4.86 0 1 0-9.72 0M332.5 272.5m-4.86 0a4.86 4.86 0 1 0 9.72 0a4.86 4.86 0 1 0-9.72 0M338.8 275m-4.86 0a4.86 4.86 0 1 0 9.72 0a4.86 4.86 0 1 0-9.72 0M330 280m-4.86 0a4.86 4.86 0 1 0 9.72 0a4.86 4.86 0 1 0-9.72 0M335 291.3m-4.86 0a4.86 4.86 0 1 0 9.72 0a4.86 4.86 0 1 0-9.72 0M346.3 286.3m-4.86 0a4.86 4.86 0 1 0 9.72 0a4.86 4.86 0 1 0-9.72 0M350 291.3m-4.86 0a4.86 4.86 0 1 0 9.72 0a4.86 4.86 0 1 0-9.72 0M358.8 290m-4.86 0a4.86 4.86 0 1 0 9.72 0a4.86 4.86 0 1 0-9.72 0M365 295m-4.86 0a4.86 4.86 0 1 0 9.72 0a4.86 4.86 0 1 0-9.72 0M351.3 276.3m-4.86 0a4.86 4.86 0 1 0 9.72 0a4.86 4.86 0 1 0-9.72 0M352.5 268.8m-4.86 0a4.86 4.86 0 1 0 9.72 0a4.86 4.86 0 1 0-9.72 0M361.3 262.5m-4.86 0a4.86 4.86 0 1 0 9.72 0a4.86 4.86 0 1 0-9.72 0M370 262.5m-4.86 0a4.86 4.86 0 1 0 9.72 0a4.86 4.86 0 1 0-9.72 0M362.5 272.5m-4.86 0a4.86 4.86 0 1 0 9.72 0a4.86 4.86 0 1 0-9.72 0M370 277.5m-4.86 0a4.86 4.86 0 1 0 9.72 0a4.86 4.86 0 1 0-9.72 0M372.5 285m-4.86 0a4.86 4.86 0 1 0 9.72 0a4.86 4.86 0 1 0-9.72 0M382.5 272.5m-4.86 0a4.86 4.86 0 1 0 9.72 0a4.86 4.86 0 1 0-9.72 0M378.8 263.8m-4.86 0a4.86 4.86 0 1 0 9.72 0a4.86 4.86 0 1 0-9.72 0M387.5 263.8m-4.86 0a4.86 4.86 0 1 0 9.72 0a4.86 4.86 0 1 0-9.72 0M396.3 262.5m-4.86 0a4.86 4.86 0 1 0 9.72 0a4.86 4.86 0 1 0-9.72 0M396.3 275m-4.86 0a4.86 4.86 0 1 0 9.72 0a4.86 4.86 0 1 0-9.72 0M381.3 282.5m-4.86 0a4.86 4.86 0 1 0 9.72 0a4.86 4.86 0 1 0-9.72 0M390 285m-4.86 0a4.86 4.86 0 1 0 9.72 0a4.86 4.86 0 1 0-9.72 0M397.5 287.5m-4.86 0a4.86 4.86 0 1 0 9.72 0a4.86 4.86 0 1 0-9.72 0M380 292.5m-4.86 0a4.86 4.86 0 1 0 9.72 0a4.86 4.86 0 1 0-9.72 0M375 300m-4.86 0a4.86 4.86 0 1 0 9.72 0a4.86 4.86 0 1 0-9.72 0M372.5 307.5m-4.86 0a4.86 4.86 0 1 0 9.72 0a4.86 4.86 0 1 0-9.72 0M372.5 315m-4.86 0a4.86 4.86 0 1 0 9.72 0a4.86 4.86 0 1 0-9.72 0M382.5 310m-4.86 0a4.86 4.86 0 1 0 9.72 0a4.86 4.86 0 1 0-9.72 0M378.8 317.5m-4.86 0a4.86 4.86 0 1 0 9.72 0a4.86 4.86 0 1 0-9.72 0M387.5 302.5m-4.86 0a4.86 4.86 0 1 0 9.72 0a4.86 4.86 0 1 0-9.72 0M395 297.5m-4.86 0a4.86 4.86 0 1 0 9.72 0a4.86 4.86 0 1 0-9.72 0M395 310m-4.86 0a4.86 4.86 0 1 0 9.72 0a4.86 4.86 0 1 0-9.72 0M390 316.3m-4.86 0a4.86 4.86 0 1 0 9.72 0a4.86 4.86 0 1 0-9.72 0M397.5 317.5m-4.86 0a4.86 4.86 0 1 0 9.72 0a4.86 4.86 0 1 0-9.72 0M385 292.5m-4.86 0a4.86 4.86 0 1 0 9.72 0a4.86 4.86 0 1 0-9.72 0M355 306.3m-4.86 0a4.86 4.86 0 1 0 9.72 0a4.86 4.86 0 1 0-9.72 0M348.8 312.5m-4.86 0a4.86 4.86 0 1 0 9.72 0a4.86 4.86 0 1 0-9.72 0M356.3 316.3m-4.86 0a4.86 4.86 0 1 0 9.72 0a4.86 4.86 0 1 0-9.72 0M343.8 317.5m-4.86 0a4.86 4.86 0 1 0 9.72 0a4.86 4.86 0 1 0-9.72 0M325 312.5m-4.86 0a4.86 4.86 0 1 0 9.72 0a4.86 4.86 0 1 0-9.72 0M331.3 317.5m-4.86 0a4.86 4.86 0 1 0 9.72 0a4.86 4.86 0 1 0-9.72 0M458.8 265m-4.86 0a4.86 4.86 0 1 0 9.72 0a4.86 4.86 0 1 0-9.72 0M466.3 261.3m-4.86 0a4.86 4.86 0 1 0 9.72 0a4.86 4.86 0 1 0-9.72 0M475 265m-4.86 0a4.86 4.86 0 1 0 9.72 0a4.86 4.86 0 1 0-9.72 0M469.4 276.9m-4.86 0a4.86 4.86 0 1 0 9.72 0a4.86 4.86 0 1 0-9.72 0M474.4 308.8m-4.86 0a4.86 4.86 0 1 0 9.72 0a4.86 4.86 0 1 0-9.72 0M461.3 316.3m-4.86 0a4.86 4.86 0 1 0 9.72 0a4.86 4.86 0 1 0-9.72 0M325 321.3m-4.86 0a4.86 4.86 0 1 0 9.72 0a4.86 4.86 0 1 0-9.72 0M332.5 321.3m-4.86 0a4.86 4.86 0 1 0 9.72 0a4.86 4.86 0 1 0-9.72 0M343.8 321.3m-4.86 0a4.86 4.86 0 1 0 9.72 0a4.86 4.86 0 1 0-9.72 0M347.5 327.5m-4.86 0a4.86 4.86 0 1 0 9.72 0a4.86 4.86 0 1 0-9.72 0M356.3 320m-4.86 0a4.86 4.86 0 1 0 9.72 0a4.86 4.86 0 1 0-9.72 0M332.5 343.1m-4.86 0a4.86 4.86 0 1 0 9.72 0a4.86 4.86 0 1 0-9.72 0M336.3 353.1m-4.86 0a4.86 4.86 0 1 0 9.72 0a4.86 4.86 0 1 0-9.72 0M349.4 337.5m-4.86 0a4.86 4.86 0 1 0 9.72 0a4.86 4.86 0 1 0-9.72 0M345 343.8m-4.86 0a4.86 4.86 0 1 0 9.72 0a4.86 4.86 0 1 0-9.72 0M352.5 345m-4.86 0a4.86 4.86 0 1 0 9.72 0a4.86 4.86 0 1 0-9.72 0M360 350m-4.86 0a4.86 4.86 0 1 0 9.72 0a4.86 4.86 0 1 0-9.72 0M364.4 346.9m-4.86 0a4.86 4.86 0 1 0 9.72 0a4.86 4.86 0 1 0-9.72 0M342.5 364.4m-4.86 0a4.86 4.86 0 1 0 9.72 0a4.86 4.86 0 1 0-9.72 0M363.1 363.1m-4.86 0a4.86 4.86 0 1 0 9.72 0a4.86 4.86 0 1 0-9.72 0M381.3 368.1m-4.86 0a4.86 4.86 0 1 0 9.72 0a4.86 4.86 0 1 0-9.72 0M366.3 326.3m-4.86 0a4.86 4.86 0 1 0 9.72 0a4.86 4.86 0 1 0-9.72 0M371.3 331.3m-4.86 0a4.86 4.86 0 1 0 9.72 0a4.86 4.86 0 1 0-9.72 0M376.3 325m-4.86 0a4.86 4.86 0 1 0 9.72 0a4.86 4.86 0 1 0-9.72 0M378.8 321.3m-4.86 0a4.86 4.86 0 1 0 9.72 0a4.86 4.86 0 1 0-9.72 0M370 321.3m-4.86 0a4.86 4.86 0 1 0 9.72 0a4.86 4.86 0 1 0-9.72 0M392.5 323.8m-4.86 0a4.86 4.86 0 1 0 9.72 0a4.86 4.86 0 1 0-9.72 0M397.5 327.5m-4.86 0a4.86 4.86 0 1 0 9.72 0a4.86 4.86 0 1 0-9.72 0M385 335m-4.86 0a4.86 4.86 0 1 0 9.72 0a4.86 4.86 0 1 0-9.72 0M395 338.8m-4.86 0a4.86 4.86 0 1 0 9.72 0a4.86 4.86 0 1 0-9.72 0M377.5 345m-4.86 0a4.86 4.86 0 1 0 9.72 0a4.86 4.86 0 1 0-9.72 0M373.8 353.8m-4.86 0a4.86 4.86 0 1 0 9.72 0a4.86 4.86 0 1 0-9.72 0M385 353.8m-4.86 0a4.86 4.86 0 1 0 9.72 0a4.86 4.86 0 1 0-9.72 0M390 345m-4.86 0a4.86 4.86 0 1 0 9.72 0a4.86 4.86 0 1 0-9.72 0M396.3 355m-4.86 0a4.86 4.86 0 1 0 9.72 0a4.86 4.86 0 1 0-9.72 0M400 360m-4.86 0a4.86 4.86 0 1 0 9.72 0a4.86 4.86 0 1 0-9.72 0M405 323.8m-4.86 0a4.86 4.86 0 1 0 9.72 0a4.86 4.86 0 1 0-9.72 0M410 320m-4.86 0a4.86 4.86 0 1 0 9.72 0a4.86 4.86 0 1 0-9.72 0M416.3 326.3m-4.86 0a4.86 4.86 0 1 0 9.72 0a4.86 4.86 0 1 0-9.72 0M428.8 323.8m-4.86 0a4.86 4.86 0 1 0 9.72 0a4.86 4.86 0 1 0-9.72 0M437.5 321.3m-4.86 0a4.86 4.86 0 1 0 9.72 0a4.86 4.86 0 1 0-9.72 0M447.5 321.3m-4.86 0a4.86 4.86 0 1 0 9.72 0a4.86 4.86 0 1 0-9.72 0M441.3 327.5m-4.86 0a4.86 4.86 0 1 0 9.72 0a4.86 4.86 0 1 0-9.72 0M432.5 333.8m-4.86 0a4.86 4.86 0 1 0 9.72 0a4.86 4.86 0 1 0-9.72 0M436.3 330m-4.86 0a4.86 4.86 0 1 0 9.72 0a4.86 4.86 0 1 0-9.72 0M461.3 320m-4.86 0a4.86 4.86 0 1 0 9.72 0a4.86 4.86 0 1 0-9.72 0M461.9 329.4m-4.86 0a4.86 4.86 0 1 0 9.72 0a4.86 4.86 0 1 0-9.72 0M402.5 333.8m-4.86 0a4.86 4.86 0 1 0 9.72 0a4.86 4.86 0 1 0-9.72 0M407.5 341.3m-4.86 0a4.86 4.86 0 1 0 9.72 0a4.86 4.86 0 1 0-9.72 0M401.3 345m-4.86 0a4.86 4.86 0 1 0 9.72 0a4.86 4.86 0 1 0-9.72 0M417.5 340m-4.86 0a4.86 4.86 0 1 0 9.72 0a4.86 4.86 0 1 0-9.72 0M423.8 341.3m-4.86 0a4.86 4.86 0 1 0 9.72 0a4.86 4.86 0 1 0-9.72 0M418.8 347.5m-4.86 0a4.86 4.86 0 1 0 9.72 0a4.86 4.86 0 1 0-9.72 0M432.5 345m-4.86 0a4.86 4.86 0 1 0 9.72 0a4.86 4.86 0 1 0-9.72 0M438.8 345m-4.86 0a4.86 4.86 0 1 0 9.72 0a4.86 4.86 0 1 0-9.72 0M450 345m-4.86 0a4.86 4.86 0 1 0 9.72 0a4.86 4.86 0 1 0-9.72 0M460 341.3m-4.86 0a4.86 4.86 0 1 0 9.72 0a4.86 4.86 0 1 0-9.72 0M465 346.3m-4.86 0a4.86 4.86 0 1 0 9.72 0a4.86 4.86 0 1 0-9.72 0M457.5 353.1m-4.86 0a4.86 4.86 0 1 0 9.72 0a4.86 4.86 0 1 0-9.72 0M472.5 355.6m-4.86 0a4.86 4.86 0 1 0 9.72 0a4.86 4.86 0 1 0-9.72 0M442.5 353.1m-4.86 0a4.86 4.86 0 1 0 9.72 0a4.86 4.86 0 1 0-9.72 0M407.5 353.8m-4.86 0a4.86 4.86 0 1 0 9.72 0a4.86 4.86 0 1 0-9.72 0M401.3 356.3m-4.86 0a4.86 4.86 0 1 0 9.72 0a4.86 4.86 0 1 0-9.72 0M417.5 357.5m-4.86 0a4.86 4.86 0 1 0 9.72 0a4.86 4.86 0 1 0-9.72 0M428.8 357.5m-4.86 0a4.86 4.86 0 1 0 9.72 0a4.86 4.86 0 1 0-9.72 0M433.8 363.1m-4.86 0a4.86 4.86 0 1 0 9.72 0a4.86 4.86 0 1 0-9.72 0M432.5 366.3m-4.86 0a4.86 4.86 0 1 0 9.72 0a4.86 4.86 0 1 0-9.72 0M413.8 365.6m-4.86 0a4.86 4.86 0 1 0 9.72 0a4.86 4.86 0 1 0-9.72 0M416.3 372.5m-4.86 0a4.86 4.86 0 1 0 9.72 0a4.86 4.86 0 1 0-9.72 0M435 352.5m-4.86 0a4.86 4.86 0 1 0 9.72 0a4.86 4.86 0 1 0-9.72 0" fill="#5f9ea0"/><path d="M378.8 302.5 L381.9 297.5 L382.5 301.2 L380.6 303.8Z" fill="#fff"/><path d="M388.8 302.5 L396.2 300 L395 306.2 L391.2 305.6Z" fill="#fff"/><path d="M398.8 308.8 L405.6 302.5 L409.4 303.1 L408.8 306.9 L401.9 310.6 L396.9 320.6 L395 319.4Z" fill="#fff"/><path d="M416.2 295.6 L419.4 293.8 L421.2 297.5 L418.1 296.9Z" fill="#fff"/><path d="M439.4 302.5 L445 297.5 L448.8 296.2 L446.2 301.2 L441.2 302.5Z" fill="#fff"/><path d="M423.8 309.4 L432.5 311.2 L431.2 316.9 L427.5 315Z" fill="#fff"/><path d="M383.1 166.9 L389.7 165 L392.5 165 L390.6 168.8 L388.7 173.4 L385.9 173.4 L383.6 169.7Z" fill="#fff"/><path d="M366.2 187.5 L370 184.7 L374.7 183.8 L372.3 188.4 L373.3 193.1 L371.9 196.9 L368.6 199.7 L370 195 L369.1 191.2Z" fill="#fff"/><path d="M393.4 184.7 L397.2 183.3 L396.2 187.5 L394.4 190.3 L397.2 195 L392.5 195.9 L391.1 193.1 L393.4 190.3Z" fill="#fff"/><path d="M347.5 169.7 L350.3 166.9 L351.2 165 L357.8 165 L355.9 168.8 L352.2 172.5 L349.4 170.6Z" fill="#fff"/><path d="M340 196.9 L346.6 195.9 L344.7 202.5 L346.6 209 L340 210Z" fill="#fff"/><path d="M356.9 226.1 L362.5 230.3 L366.2 228.4 L372.8 228.4 L379.4 231.2 L379.8 234.1 L373.7 234.5 L370.9 237.8 L372.8 241.6 L379.4 242.5 L387.8 243.9 L381.2 245.3 L377.5 250 L373.7 250.9 L368.1 246.2 L362.5 241.6 L356.9 236.9 L355 231.2Z" fill="#fff"/><path d="M349.4 247.2 L355 250.9 L354.1 254.7 L357.8 260.3 L355 264 L348.4 264 L350.3 257.5 L343.7 252.8Z" fill="#fff"/><path d="M352.5 211.5 L357 209.5 L360 209 L361 211.5 L356 211.3Z" fill="#fff"/><path d="M372.2 270.9 L374.1 267.2 L378.8 265.3 L380.6 267.7 L378.3 270 L377.3 273.8 L379.7 277 L384.4 278 L388.1 277 L390.9 273.8 L391.4 269 L392.8 264.4 L396.6 266.2 L397.5 269 L392.8 271 L392.3 276.6 L395.6 282.2 L401.2 284 L399.4 286 L392.8 283.1 L385.3 279.8 L378.8 279.4 L376.4 282.2 L374.1 279.4 L371.7 273.8Z" fill="#fff"/><path d="M371.2 256 L376.9 259.7 L381.6 256.9 L384.4 255 L385.3 258.8 L377.3 261.6 L373.1 258.8Z" fill="#fff"/><path d="M366.9 234.4m-4.86 0a4.86 4.86 0 1 0 9.72 0a4.86 4.86 0 1 0-9.72 0M384.4 271.9m-4.86 0a4.86 4.86 0 1 0 9.72 0a4.86 4.86 0 1 0-9.72 0" fill="#5f9ea0"/><path d="M118.1 223.9 L118 224.4 L120.3 228.3 L124.1 230.2 L130 232.6 L130.4 232.8 L130.8 233 L131.1 233.2 L131.4 233.5 L131.7 233.8 L132 234.1 L132.2 234.5 L132.4 234.9 L132.5 235.3 L132.6 235.7 L132.7 236.1 L132.7 236.5 L132.7 243.8 L133.7 245.4 L137.9 243 L138.2 242.8 L138.6 242.7 L139 242.6 L139.4 242.5 L139.9 242.5 L140.3 242.5 L140.7 242.5 L141.1 242.6 L141.5 242.8 L141.9 242.9 L142.2 243.1 L142.6 243.4 L142.9 243.7 L146.5 247.1 L146.7 247.4 L147 247.7 L147.2 248.1 L147.4 248.4 L147.5 248.8 L147.6 249.2 L148.3 252.1 L151.3 253.2 L151.7 253.4 L152.1 253.6 L152.4 253.9 L152.7 254.1 L153 254.4 L153.3 254.8 L155.9 258.6 L158.9 258.6 L160.1 256.2 L160.3 255.8 L160.6 255.5 L160.8 255.1 L161.1 254.9 L161.4 254.6 L161.8 254.4 L162.2 254.2 L162.6 254 L163 253.9 L163.4 253.9 L163.8 253.8 L164.2 253.9 L164.6 253.9 L165 254 L165.4 254.1 L165.8 254.3 L166.1 254.5 L166.5 254.8 L166.8 255 L167.1 255.3 L168.7 257.3 L171 256.4 L171.4 256.3 L171.7 256.2 L172.1 256.1 L172.5 256.1 L172.9 256.2 L173.3 256.2 L173.7 256.3 L174.1 256.4 L174.4 256.6 L176.6 257.8 L177 258 L177.3 258.2 L177.6 258.5 L177.9 258.8 L178.2 259.1 L178.4 259.5 L178.6 259.9 L178.7 260.3 L178.8 260.7 L178.9 261.1 L178.9 261.5 L178.9 266.2 L181.9 270.1 L182.1 270.4 L182.3 270.8 L182.5 271.2 L182.6 271.6 L182.7 272 L183.3 276.1 L204.8 276.1 L207.6 275.8 L207.5 275.4 L207.5 275 L207.5 274.6 L207.6 274.2 L207.7 273.8 L207.8 273.4 L208 273 L208.2 272.7 L208.5 272.3 L208.8 272 L211.1 269.7 L211.1 266.4 L211.1 266 L211.2 265.6 L211.3 265.2 L211.4 264.8 L211.6 264.4 L211.8 264.1 L214.1 260.6 L214.4 260.2 L214.7 259.9 L215 259.6 L215.3 259.4 L215.7 259.1 L216.1 259 L216.5 258.8 L216.9 258.7 L217.3 258.7 L217.7 258.7 L218.2 258.7 L218.6 258.8 L219 258.9 L222.3 260 L226 260.7 L226.5 260.2 L226.3 259.4 L222.3 255.3 L222 254.9 L217.1 248.9 L216.8 248.5 L216.6 248.2 L216.5 247.9 L216.3 247.5 L216.2 247.1 L216.2 246.7 L216.1 246.3 L216.1 245.9 L216.2 245.6 L216.3 245.2 L217.1 241.9 L214.2 237.1 L214 236.8 L213.9 236.4 L213.8 236 L213.7 235.6 L213.6 235.2 L213.6 234.8 L213.7 234.4 L213.7 234 L213.8 233.6 L218.6 219.4 L218.6 218.4 L217.2 217.5 L209.9 214.8 L209.5 214.6 L209.2 214.4 L208.8 214.2 L208.5 213.9 L208.3 213.6 L208 213.3 L207.8 213 L207.6 212.6 L207.4 212.3 L207.3 211.9 L207.2 211.5 L207.2 211.1 L207.2 210.7 L207.2 210.3 L207.3 209.9 L207.4 209.5 L208.3 206.9 L208.4 206.5 L208.6 206.2 L208.8 205.8 L209 205.5 L209.3 205.2 L209.6 205 L209.9 204.7 L210.2 204.5 L215.1 201.8 L217.3 199.7 L214.8 196.6 L211 193.7 L207.1 193.3 L206.7 193.2 L206.2 193.1 L205.8 192.9 L205.4 192.7 L205.1 192.5 L200.6 189.1 L196.2 187.5 L195.8 187.3 L195.4 187.1 L195 186.8 L194.7 186.5 L189.9 181.7 L186.5 179.1 L182.6 179.8 L182.3 180.4 L182.1 180.8 L181.9 181.2 L181.6 181.6 L181.2 181.9 L177.6 184.8 L177.3 185.1 L176.9 185.3 L176.6 185.4 L176.2 185.6 L175.8 185.7 L175.4 185.7 L175 185.8 L174.6 185.7 L174.2 185.7 L173.8 185.6 L173.5 185.5 L165.6 182.5 L165 183 L164.7 183.2 L164.3 183.4 L163.9 183.6 L163.5 183.7 L163.1 183.8 L162.7 183.9 L162.3 183.9 L161.9 183.8 L161.5 183.8 L161.1 183.7 L157.6 182.5 L157.2 182.3 L156.8 182.1 L151.4 178.9 L145.9 178.9 L142.1 180.8 L138.4 183.6 L136.9 189.7 L136.8 190.1 L136.6 190.5 L134.8 194.1 L134.6 194.5 L134.4 194.8 L134.2 195.1 L133.9 195.4 L133.6 195.6 L129.5 198.8 L126.1 206.4 L123.8 213.4 L122.7 220.4 L122.6 220.8 L122.5 221.2 L122.3 221.6 L122.1 221.9 L121.9 222.3 L121.6 222.6 L121.3 222.9 L120.9 223.2 L120.6 223.4 L120.2 223.6 L119.8 223.7 L119.4 223.8 L119 223.9 L118.5 223.9 L118.1 223.9Z" fill="#cd5c5c"/><path d="M118.1 223.9m-4.86 0a4.86 4.86 0 1 0 9.72 0a4.86 4.86 0 1 0-9.72 0M121.1 228.7m-4.86 0a4.86 4.86 0 1 0 9.72 0a4.86 4.86 0 1 0-9.72 0M126.6 231.2m-4.86 0a4.86 4.86 0 1 0 9.72 0a4.86 4.86 0 1 0-9.72 0M131.8 234m-4.86 0a4.86 4.86 0 1 0 9.72 0a4.86 4.86 0 1 0-9.72 0M132.7 239.8m-4.86 0a4.86 4.86 0 1 0 9.72 0a4.86 4.86 0 1 0-9.72 0M133.8 245.3m-4.86 0a4.86 4.86 0 1 0 9.72 0a4.86 4.86 0 1 0-9.72 0M139.1 242.6m-4.86 0a4.86 4.86 0 1 0 9.72 0a4.86 4.86 0 1 0-9.72 0M144.3 245m-4.86 0a4.86 4.86 0 1 0 9.72 0a4.86 4.86 0 1 0-9.72 0M147.8 249.8m-4.86 0a4.86 4.86 0 1 0 9.72 0a4.86 4.86 0 1 0-9.72 0M151.7 253.4m-4.86 0a4.86 4.86 0 1 0 9.72 0a4.86 4.86 0 1 0-9.72 0M155.5 258m-4.86 0a4.86 4.86 0 1 0 9.72 0a4.86 4.86 0 1 0-9.72 0M159.9 256.6m-4.86 0a4.86 4.86 0 1 0 9.72 0a4.86 4.86 0 1 0-9.72 0M164.7 253.9m-4.86 0a4.86 4.86 0 1 0 9.72 0a4.86 4.86 0 1 0-9.72 0M169.4 257m-4.86 0a4.86 4.86 0 1 0 9.72 0a4.86 4.86 0 1 0-9.72 0M175.1 256.9m-4.86 0a4.86 4.86 0 1 0 9.72 0a4.86 4.86 0 1 0-9.72 0M178.9 261.2m-4.86 0a4.86 4.86 0 1 0 9.72 0a4.86 4.86 0 1 0-9.72 0M179.5 267m-4.86 0a4.86 4.86 0 1 0 9.72 0a4.86 4.86 0 1 0-9.72 0M182.7 272m-4.86 0a4.86 4.86 0 1 0 9.72 0a4.86 4.86 0 1 0-9.72 0M185.2 276.1m-4.86 0a4.86 4.86 0 1 0 9.72 0a4.86 4.86 0 1 0-9.72 0M191.2 276.1m-4.86 0a4.86 4.86 0 1 0 9.72 0a4.86 4.86 0 1 0-9.72 0M197.2 276.1m-4.86 0a4.86 4.86 0 1 0 9.72 0a4.86 4.86 0 1 0-9.72 0M203.2 276.1m-4.86 0a4.86 4.86 0 1 0 9.72 0a4.86 4.86 0 1 0-9.72 0M207.6 274.1m-4.86 0a4.86 4.86 0 1 0 9.72 0a4.86 4.86 0 1 0-9.72 0M211.1 269.4m-4.86 0a4.86 4.86 0 1 0 9.72 0a4.86 4.86 0 1 0-9.72 0M212.1 263.6m-4.86 0a4.86 4.86 0 1 0 9.72 0a4.86 4.86 0 1 0-9.72 0M215.8 259.1m-4.86 0a4.86 4.86 0 1 0 9.72 0a4.86 4.86 0 1 0-9.72 0M221.6 259.8m-4.86 0a4.86 4.86 0 1 0 9.72 0a4.86 4.86 0 1 0-9.72 0M226.3 259.4m-4.86 0a4.86 4.86 0 1 0 9.72 0a4.86 4.86 0 1 0-9.72 0M222.1 255.1m-4.86 0a4.86 4.86 0 1 0 9.72 0a4.86 4.86 0 1 0-9.72 0M218.3 250.4m-4.86 0a4.86 4.86 0 1 0 9.72 0a4.86 4.86 0 1 0-9.72 0M216.3 245.1m-4.86 0a4.86 4.86 0 1 0 9.72 0a4.86 4.86 0 1 0-9.72 0M215.7 239.6m-4.86 0a4.86 4.86 0 1 0 9.72 0a4.86 4.86 0 1 0-9.72 0M213.7 234.1m-4.86 0a4.86 4.86 0 1 0 9.72 0a4.86 4.86 0 1 0-9.72 0M215.6 228.4m-4.86 0a4.86 4.86 0 1 0 9.72 0a4.86 4.86 0 1 0-9.72 0M217.5 222.7m-4.86 0a4.86 4.86 0 1 0 9.72 0a4.86 4.86 0 1 0-9.72 0M217.3 217.6m-4.86 0a4.86 4.86 0 1 0 9.72 0a4.86 4.86 0 1 0-9.72 0M211.7 215.4m-4.86 0a4.86 4.86 0 1 0 9.72 0a4.86 4.86 0 1 0-9.72 0M207.3 211.8m-4.86 0a4.86 4.86 0 1 0 9.72 0a4.86 4.86 0 1 0-9.72 0M208.7 206m-4.86 0a4.86 4.86 0 1 0 9.72 0a4.86 4.86 0 1 0-9.72 0M213.6 202.7m-4.86 0a4.86 4.86 0 1 0 9.72 0a4.86 4.86 0 1 0-9.72 0M216.5 198.8m-4.86 0a4.86 4.86 0 1 0 9.72 0a4.86 4.86 0 1 0-9.72 0M212.2 194.7m-4.86 0a4.86 4.86 0 1 0 9.72 0a4.86 4.86 0 1 0-9.72 0M206.5 193.2m-4.86 0a4.86 4.86 0 1 0 9.72 0a4.86 4.86 0 1 0-9.72 0M201.6 189.8m-4.86 0a4.86 4.86 0 1 0 9.72 0a4.86 4.86 0 1 0-9.72 0M196.1 187.4m-4.86 0a4.86 4.86 0 1 0 9.72 0a4.86 4.86 0 1 0-9.72 0M191.6 183.5m-4.86 0a4.86 4.86 0 1 0 9.72 0a4.86 4.86 0 1 0-9.72 0M187.1 179.6m-4.86 0a4.86 4.86 0 1 0 9.72 0a4.86 4.86 0 1 0-9.72 0M182 181m-4.86 0a4.86 4.86 0 1 0 9.72 0a4.86 4.86 0 1 0-9.72 0M177.4 184.9m-4.86 0a4.86 4.86 0 1 0 9.72 0a4.86 4.86 0 1 0-9.72 0M171.8 184.8m-4.86 0a4.86 4.86 0 1 0 9.72 0a4.86 4.86 0 1 0-9.72 0M166.1 182.7m-4.86 0a4.86 4.86 0 1 0 9.72 0a4.86 4.86 0 1 0-9.72 0M160.6 183.5m-4.86 0a4.86 4.86 0 1 0 9.72 0a4.86 4.86 0 1 0-9.72 0M155.1 181.1m-4.86 0a4.86 4.86 0 1 0 9.72 0a4.86 4.86 0 1 0-9.72 0M149.7 178.9m-4.86 0a4.86 4.86 0 1 0 9.72 0a4.86 4.86 0 1 0-9.72 0M143.9 179.9m-4.86 0a4.86 4.86 0 1 0 9.72 0a4.86 4.86 0 1 0-9.72 0M138.9 183.2m-4.86 0a4.86 4.86 0 1 0 9.72 0a4.86 4.86 0 1 0-9.72 0M137.1 188.8m-4.86 0a4.86 4.86 0 1 0 9.72 0a4.86 4.86 0 1 0-9.72 0M134.7 194.3m-4.86 0a4.86 4.86 0 1 0 9.72 0a4.86 4.86 0 1 0-9.72 0M130.2 198.2m-4.86 0a4.86 4.86 0 1 0 9.72 0a4.86 4.86 0 1 0-9.72 0M127.4 203.5m-4.86 0a4.86 4.86 0 1 0 9.72 0a4.86 4.86 0 1 0-9.72 0M125.3 209.1m-4.86 0a4.86 4.86 0 1 0 9.72 0a4.86 4.86 0 1 0-9.72 0M123.6 214.8m-4.86 0a4.86 4.86 0 1 0 9.72 0a4.86 4.86 0 1 0-9.72 0M122.6 220.7m-4.86 0a4.86 4.86 0 1 0 9.72 0a4.86 4.86 0 1 0-9.72 0" fill="#cd5c5c"/><path d="M208.4 368 L208.2 368.3 L207.9 368.6 L205.2 371.7 L207.2 372.7 L222.7 378.9 L223 379 L223.3 379.2 L230 383.2 L241 381.7 L241.5 381.7 L241.9 381.7 L242.4 381.8 L242.8 381.9 L243.2 382.1 L252.5 386.1 L261.2 382.3 L266.9 376.7 L267.2 376.4 L267.5 376.2 L267.8 376 L268.2 375.8 L268.5 375.7 L268.9 375.6 L273.6 374.5 L270.2 371.9 L270 371.8 L263.9 366.9 L263.6 366.6 L263.3 366.3 L263.1 366 L262.9 365.6 L262.7 365.2 L262.5 364.8 L262.4 364.4 L261.2 357 L261.1 356.6 L261.1 356.3 L261.1 346 L257.7 340.2 L253.4 340.2 L248.2 342.8 L246.3 348.6 L246.1 348.9 L245.9 349.3 L245.7 349.7 L245.4 350 L245.2 350.3 L244.9 350.5 L244.5 350.8 L244.2 351 L243.8 351.2 L243.4 351.3 L243 351.4 L237.2 352.4 L234.6 355.9 L234.3 356.3 L234 356.6 L233.7 356.8 L233.3 357.1 L233 357.2 L232.6 357.4 L232.2 357.5 L231.8 357.6 L231.3 357.6 L230.9 357.6 L230.5 357.6 L230.1 357.5 L229.7 357.4 L220.9 354 L215.3 354.8 L213.6 358.9 L213.5 359.2 L213.4 359.5 L208.4 368Z" fill="#cd5c5c"/><path d="M208.4 368m-4.86 0a4.86 4.86 0 1 0 9.72 0a4.86 4.86 0 1 0-9.72 0M206.2 372.2m-4.86 0a4.86 4.86 0 1 0 9.72 0a4.86 4.86 0 1 0-9.72 0M211.8 374.5m-4.86 0a4.86 4.86 0 1 0 9.72 0a4.86 4.86 0 1 0-9.72 0M217.4 376.8m-4.86 0a4.86 4.86 0 1 0 9.72 0a4.86 4.86 0 1 0-9.72 0M223 379m-4.86 0a4.86 4.86 0 1 0 9.72 0a4.86 4.86 0 1 0-9.72 0M228.2 382.1m-4.86 0a4.86 4.86 0 1 0 9.72 0a4.86 4.86 0 1 0-9.72 0M233.9 382.7m-4.86 0a4.86 4.86 0 1 0 9.72 0a4.86 4.86 0 1 0-9.72 0M239.9 381.9m-4.86 0a4.86 4.86 0 1 0 9.72 0a4.86 4.86 0 1 0-9.72 0M245.7 383.1m-4.86 0a4.86 4.86 0 1 0 9.72 0a4.86 4.86 0 1 0-9.72 0M251.2 385.5m-4.86 0a4.86 4.86 0 1 0 9.72 0a4.86 4.86 0 1 0-9.72 0M256.8 384.2m-4.86 0a4.86 4.86 0 1 0 9.72 0a4.86 4.86 0 1 0-9.72 0M262.1 381.4m-4.86 0a4.86 4.86 0 1 0 9.72 0a4.86 4.86 0 1 0-9.72 0M266.4 377.2m-4.86 0a4.86 4.86 0 1 0 9.72 0a4.86 4.86 0 1 0-9.72 0M271.8 374.9m-4.86 0a4.86 4.86 0 1 0 9.72 0a4.86 4.86 0 1 0-9.72 0M270.2 372m-4.86 0a4.86 4.86 0 1 0 9.72 0a4.86 4.86 0 1 0-9.72 0M265.5 368.2m-4.86 0a4.86 4.86 0 1 0 9.72 0a4.86 4.86 0 1 0-9.72 0M262.3 363.4m-4.86 0a4.86 4.86 0 1 0 9.72 0a4.86 4.86 0 1 0-9.72 0M261.2 357.4m-4.86 0a4.86 4.86 0 1 0 9.72 0a4.86 4.86 0 1 0-9.72 0M261.1 351.4m-4.86 0a4.86 4.86 0 1 0 9.72 0a4.86 4.86 0 1 0-9.72 0M260.8 345.4m-4.86 0a4.86 4.86 0 1 0 9.72 0a4.86 4.86 0 1 0-9.72 0M257.7 340.2m-4.86 0a4.86 4.86 0 1 0 9.72 0a4.86 4.86 0 1 0-9.72 0M251.9 341m-4.86 0a4.86 4.86 0 1 0 9.72 0a4.86 4.86 0 1 0-9.72 0M247.6 344.6m-4.86 0a4.86 4.86 0 1 0 9.72 0a4.86 4.86 0 1 0-9.72 0M245.3 350.1m-4.86 0a4.86 4.86 0 1 0 9.72 0a4.86 4.86 0 1 0-9.72 0M239.6 352m-4.86 0a4.86 4.86 0 1 0 9.72 0a4.86 4.86 0 1 0-9.72 0M235.1 355.2m-4.86 0a4.86 4.86 0 1 0 9.72 0a4.86 4.86 0 1 0-9.72 0M230 357.4m-4.86 0a4.86 4.86 0 1 0 9.72 0a4.86 4.86 0 1 0-9.72 0M224.3 355.3m-4.86 0a4.86 4.86 0 1 0 9.72 0a4.86 4.86 0 1 0-9.72 0M218.5 354.4m-4.86 0a4.86 4.86 0 1 0 9.72 0a4.86 4.86 0 1 0-9.72 0M214.2 357.4m-4.86 0a4.86 4.86 0 1 0 9.72 0a4.86 4.86 0 1 0-9.72 0M211.4 362.7m-4.86 0a4.86 4.86 0 1 0 9.72 0a4.86 4.86 0 1 0-9.72 0" fill="#cd5c5c"/><ellipse cx="203" cy="247.2" rx="0.8" ry="1.2" fill="#fff"/><ellipse cx="196.4" cy="256" rx="0.8" ry="0.8" fill="#fff"/><ellipse cx="213.3" cy="253.8" rx="1.2" ry="0.8" fill="#fff"/><path d="M264.3 245m-4.86 0a4.86 4.86 0 1 0 9.72 0a4.86 4.86 0 1 0-9.72 0M242.5 296.3m-4.86 0a4.86 4.86 0 1 0 9.72 0a4.86 4.86 0 1 0-9.72 0M250 296.3m-4.86 0a4.86 4.86 0 1 0 9.72 0a4.86 4.86 0 1 0-9.72 0M255.5 293.3m-4.86 0a4.86 4.86 0 1 0 9.72 0a4.86 4.86 0 1 0-9.72 0M261.3 308.8m-4.86 0a4.86 4.86 0 1 0 9.72 0a4.86 4.86 0 1 0-9.72 0M262 271.3m-4.86 0a4.86 4.86 0 1 0 9.72 0a4.86 4.86 0 1 0-9.72 0M151.3 285m-4.86 0a4.86 4.86 0 1 0 9.72 0a4.86 4.86 0 1 0-9.72 0M151.3 308.8m-4.86 0a4.86 4.86 0 1 0 9.72 0a4.86 4.86 0 1 0-9.72 0M326.3 295.5m-4.86 0a4.86 4.86 0 1 0 9.72 0a4.86 4.86 0 1 0-9.72 0M175 169.4m-4.86 0a4.86 4.86 0 1 0 9.72 0a4.86 4.86 0 1 0-9.72 0M116.3 199.4m-4.86 0a4.86 4.86 0 1 0 9.72 0a4.86 4.86 0 1 0-9.72 0M118.8 201.3m-4.86 0a4.86 4.86 0 1 0 9.72 0a4.86 4.86 0 1 0-9.72 0M105 211.3m-4.86 0a4.86 4.86 0 1 0 9.72 0a4.86 4.86 0 1 0-9.72 0M110.6 215m-4.86 0a4.86 4.86 0 1 0 9.72 0a4.86 4.86 0 1 0-9.72 0M217.5 185m-4.86 0a4.86 4.86 0 1 0 9.72 0a4.86 4.86 0 1 0-9.72 0M237.5 187.5m-4.86 0a4.86 4.86 0 1 0 9.72 0a4.86 4.86 0 1 0-9.72 0M230.6 200m-4.86 0a4.86 4.86 0 1 0 9.72 0a4.86 4.86 0 1 0-9.72 0M233.8 203.1m-4.86 0a4.86 4.86 0 1 0 9.72 0a4.86 4.86 0 1 0-9.72 0M254.4 191.3m-4.86 0a4.86 4.86 0 1 0 9.72 0a4.86 4.86 0 1 0-9.72 0M253.8 196.9m-4.86 0a4.86 4.86 0 1 0 9.72 0a4.86 4.86 0 1 0-9.72 0M183.8 180m-4.86 0a4.86 4.86 0 1 0 9.72 0a4.86 4.86 0 1 0-9.72 0M188.8 178.8m-4.86 0a4.86 4.86 0 1 0 9.72 0a4.86 4.86 0 1 0-9.72 0M193.8 185.6m-4.86 0a4.86 4.86 0 1 0 9.72 0a4.86 4.86 0 1 0-9.72 0M202.5 190m-4.86 0a4.86 4.86 0 1 0 9.72 0a4.86 4.86 0 1 0-9.72 0M211.3 193.8m-4.86 0a4.86 4.86 0 1 0 9.72 0a4.86 4.86 0 1 0-9.72 0M217.5 200m-4.86 0a4.86 4.86 0 1 0 9.72 0a4.86 4.86 0 1 0-9.72 0M208 211m-4.86 0a4.86 4.86 0 1 0 9.72 0a4.86 4.86 0 1 0-9.72 0M218.8 216.3m-4.86 0a4.86 4.86 0 1 0 9.72 0a4.86 4.86 0 1 0-9.72 0M235 241.3m-4.86 0a4.86 4.86 0 1 0 9.72 0a4.86 4.86 0 1 0-9.72 0M239.4 254.4m-4.86 0a4.86 4.86 0 1 0 9.72 0a4.86 4.86 0 1 0-9.72 0M163 258.5m-4.86 0a4.86 4.86 0 1 0 9.72 0a4.86 4.86 0 1 0-9.72 0M171 258m-4.86 0a4.86 4.86 0 1 0 9.72 0a4.86 4.86 0 1 0-9.72 0M224.4 271.3m-4.86 0a4.86 4.86 0 1 0 9.72 0a4.86 4.86 0 1 0-9.72 0M226.3 260m-4.86 0a4.86 4.86 0 1 0 9.72 0a4.86 4.86 0 1 0-9.72 0M182.5 271.3m-4.86 0a4.86 4.86 0 1 0 9.72 0a4.86 4.86 0 1 0-9.72 0M191.3 271.3m-4.86 0a4.86 4.86 0 1 0 9.72 0a4.86 4.86 0 1 0-9.72 0M201.3 271.3m-4.86 0a4.86 4.86 0 1 0 9.72 0a4.86 4.86 0 1 0-9.72 0M210 271.3m-4.86 0a4.86 4.86 0 1 0 9.72 0a4.86 4.86 0 1 0-9.72 0M182.5 277.5m-4.86 0a4.86 4.86 0 1 0 9.72 0a4.86 4.86 0 1 0-9.72 0M182.5 282.5m-4.86 0a4.86 4.86 0 1 0 9.72 0a4.86 4.86 0 1 0-9.72 0M190 281.3m-4.86 0a4.86 4.86 0 1 0 9.72 0a4.86 4.86 0 1 0-9.72 0M197.5 282.5m-4.86 0a4.86 4.86 0 1 0 9.72 0a4.86 4.86 0 1 0-9.72 0M201.3 286.3m-4.86 0a4.86 4.86 0 1 0 9.72 0a4.86 4.86 0 1 0-9.72 0M187.5 287.5m-4.86 0a4.86 4.86 0 1 0 9.72 0a4.86 4.86 0 1 0-9.72 0M210 278.8m-4.86 0a4.86 4.86 0 1 0 9.72 0a4.86 4.86 0 1 0-9.72 0M212.5 283.8m-4.86 0a4.86 4.86 0 1 0 9.72 0a4.86 4.86 0 1 0-9.72 0M212.5 288.8m-4.86 0a4.86 4.86 0 1 0 9.72 0a4.86 4.86 0 1 0-9.72 0M207.5 293.8m-4.86 0a4.86 4.86 0 1 0 9.72 0a4.86 4.86 0 1 0-9.72 0M188.1 295.6m-4.86 0a4.86 4.86 0 1 0 9.72 0a4.86 4.86 0 1 0-9.72 0M197.5 298.1m-4.86 0a4.86 4.86 0 1 0 9.72 0a4.86 4.86 0 1 0-9.72 0M205 297.5m-4.86 0a4.86 4.86 0 1 0 9.72 0a4.86 4.86 0 1 0-9.72 0M207.5 301.3m-4.86 0a4.86 4.86 0 1 0 9.72 0a4.86 4.86 0 1 0-9.72 0M223.1 288.1m-4.86 0a4.86 4.86 0 1 0 9.72 0a4.86 4.86 0 1 0-9.72 0M236.3 286.3m-4.86 0a4.86 4.86 0 1 0 9.72 0a4.86 4.86 0 1 0-9.72 0M235 294.4m-4.86 0a4.86 4.86 0 1 0 9.72 0a4.86 4.86 0 1 0-9.72 0M174.4 311.3m-4.86 0a4.86 4.86 0 1 0 9.72 0a4.86 4.86 0 1 0-9.72 0M179.4 311.3m-4.86 0a4.86 4.86 0 1 0 9.72 0a4.86 4.86 0 1 0-9.72 0M165 320m-4.86 0a4.86 4.86 0 1 0 9.72 0a4.86 4.86 0 1 0-9.72 0M203.8 311.3m-4.86 0a4.86 4.86 0 1 0 9.72 0a4.86 4.86 0 1 0-9.72 0M212.5 308.8m-4.86 0a4.86 4.86 0 1 0 9.72 0a4.86 4.86 0 1 0-9.72 0M207.5 317.5m-4.86 0a4.86 4.86 0 1 0 9.72 0a4.86 4.86 0 1 0-9.72 0M208.8 323.8m-4.86 0a4.86 4.86 0 1 0 9.72 0a4.86 4.86 0 1 0-9.72 0M213.8 327.5m-4.86 0a4.86 4.86 0 1 0 9.72 0a4.86 4.86 0 1 0-9.72 0M222.5 315m-4.86 0a4.86 4.86 0 1 0 9.72 0a4.86 4.86 0 1 0-9.72 0M226.3 321.3m-4.86 0a4.86 4.86 0 1 0 9.72 0a4.86 4.86 0 1 0-9.72 0M235 320m-4.86 0a4.86 4.86 0 1 0 9.72 0a4.86 4.86 0 1 0-9.72 0M230 326.3m-4.86 0a4.86 4.86 0 1 0 9.72 0a4.86 4.86 0 1 0-9.72 0M237.5 327.5m-4.86 0a4.86 4.86 0 1 0 9.72 0a4.86 4.86 0 1 0-9.72 0M210 328.8m-4.86 0a4.86 4.86 0 1 0 9.72 0a4.86 4.86 0 1 0-9.72 0M232.5 323.8m-4.86 0a4.86 4.86 0 1 0 9.72 0a4.86 4.86 0 1 0-9.72 0M240 322.5m-4.86 0a4.86 4.86 0 1 0 9.72 0a4.86 4.86 0 1 0-9.72 0M246.3 327.5m-4.86 0a4.86 4.86 0 1 0 9.72 0a4.86 4.86 0 1 0-9.72 0M238.8 331.3m-4.86 0a4.86 4.86 0 1 0 9.72 0a4.86 4.86 0 1 0-9.72 0M230 330m-4.86 0a4.86 4.86 0 1 0 9.72 0a4.86 4.86 0 1 0-9.72 0M227.5 336.3m-4.86 0a4.86 4.86 0 1 0 9.72 0a4.86 4.86 0 1 0-9.72 0M218.8 338.8m-4.86 0a4.86 4.86 0 1 0 9.72 0a4.86 4.86 0 1 0-9.72 0M192.5 336.9m-4.86 0a4.86 4.86 0 1 0 9.72 0a4.86 4.86 0 1 0-9.72 0M205 341.9m-4.86 0a4.86 4.86 0 1 0 9.72 0a4.86 4.86 0 1 0-9.72 0M188.1 348.1m-4.86 0a4.86 4.86 0 1 0 9.72 0a4.86 4.86 0 1 0-9.72 0M197.5 352.5m-4.86 0a4.86 4.86 0 1 0 9.72 0a4.86 4.86 0 1 0-9.72 0M203.8 355m-4.86 0a4.86 4.86 0 1 0 9.72 0a4.86 4.86 0 1 0-9.72 0M212.5 347.5m-4.86 0a4.86 4.86 0 1 0 9.72 0a4.86 4.86 0 1 0-9.72 0M222.5 345m-4.86 0a4.86 4.86 0 1 0 9.72 0a4.86 4.86 0 1 0-9.72 0M230 338.8m-4.86 0a4.86 4.86 0 1 0 9.72 0a4.86 4.86 0 1 0-9.72 0M247.5 341.9m-4.86 0a4.86 4.86 0 1 0 9.72 0a4.86 4.86 0 1 0-9.72 0M258.8 330m-4.86 0a4.86 4.86 0 1 0 9.72 0a4.86 4.86 0 1 0-9.72 0M237.5 350m-4.86 0a4.86 4.86 0 1 0 9.72 0a4.86 4.86 0 1 0-9.72 0M182.5 364.4m-4.86 0a4.86 4.86 0 1 0 9.72 0a4.86 4.86 0 1 0-9.72 0M192.5 366.9m-4.86 0a4.86 4.86 0 1 0 9.72 0a4.86 4.86 0 1 0-9.72 0M206.3 364.4m-4.86 0a4.86 4.86 0 1 0 9.72 0a4.86 4.86 0 1 0-9.72 0M202.5 370.6m-4.86 0a4.86 4.86 0 1 0 9.72 0a4.86 4.86 0 1 0-9.72 0M201.3 378.8m-4.86 0a4.86 4.86 0 1 0 9.72 0a4.86 4.86 0 1 0-9.72 0M277.5 321.3m-4.86 0a4.86 4.86 0 1 0 9.72 0a4.86 4.86 0 1 0-9.72 0M263.8 330m-4.86 0a4.86 4.86 0 1 0 9.72 0a4.86 4.86 0 1 0-9.72 0M263.8 335m-4.86 0a4.86 4.86 0 1 0 9.72 0a4.86 4.86 0 1 0-9.72 0M256.3 340m-4.86 0a4.86 4.86 0 1 0 9.72 0a4.86 4.86 0 1 0-9.72 0M266.3 340.6m-4.86 0a4.86 4.86 0 1 0 9.72 0a4.86 4.86 0 1 0-9.72 0M268.8 350m-4.86 0a4.86 4.86 0 1 0 9.72 0a4.86 4.86 0 1 0-9.72 0M271.3 355m-4.86 0a4.86 4.86 0 1 0 9.72 0a4.86 4.86 0 1 0-9.72 0M275 363.8m-4.86 0a4.86 4.86 0 1 0 9.72 0a4.86 4.86 0 1 0-9.72 0M285.6 355m-4.86 0a4.86 4.86 0 1 0 9.72 0a4.86 4.86 0 1 0-9.72 0M284.4 360m-4.86 0a4.86 4.86 0 1 0 9.72 0a4.86 4.86 0 1 0-9.72 0M304.4 364.4m-4.86 0a4.86 4.86 0 1 0 9.72 0a4.86 4.86 0 1 0-9.72 0M317.5 355m-4.86 0a4.86 4.86 0 1 0 9.72 0a4.86 4.86 0 1 0-9.72 0M200.9 382.5m-4.86 0a4.86 4.86 0 1 0 9.72 0a4.86 4.86 0 1 0-9.72 0M227.5 394.2m-4.86 0a4.86 4.86 0 1 0 9.72 0a4.86 4.86 0 1 0-9.72 0M236.9 390.3m-4.86 0a4.86 4.86 0 1 0 9.72 0a4.86 4.86 0 1 0-9.72 0M256.4 395m-4.86 0a4.86 4.86 0 1 0 9.72 0a4.86 4.86 0 1 0-9.72 0M274.4 385.6m-4.86 0a4.86 4.86 0 1 0 9.72 0a4.86 4.86 0 1 0-9.72 0M279.1 379.4m-4.86 0a4.86 4.86 0 1 0 9.72 0a4.86 4.86 0 1 0-9.72 0M236.1 407.5m-4.86 0a4.86 4.86 0 1 0 9.72 0a4.86 4.86 0 1 0-9.72 0M254.1 407.5m-4.86 0a4.86 4.86 0 1 0 9.72 0a4.86 4.86 0 1 0-9.72 0M249.4 387.2m-4.86 0a4.86 4.86 0 1 0 9.72 0a4.86 4.86 0 1 0-9.72 0M225.9 382.5m-4.86 0a4.86 4.86 0 1 0 9.72 0a4.86 4.86 0 1 0-9.72 0M210.3 374.7m-4.86 0a4.86 4.86 0 1 0 9.72 0a4.86 4.86 0 1 0-9.72 0M193.1 370m-4.86 0a4.86 4.86 0 1 0 9.72 0a4.86 4.86 0 1 0-9.72 0M225 338.8m-4.86 0a4.86 4.86 0 1 0 9.72 0a4.86 4.86 0 1 0-9.72 0M207.5 351.2m-4.86 0a4.86 4.86 0 1 0 9.72 0a4.86 4.86 0 1 0-9.72 0M216.2 356.2m-4.86 0a4.86 4.86 0 1 0 9.72 0a4.86 4.86 0 1 0-9.72 0" fill="#cd5c5c"/><path d="M223 348 L233 346.5 L236 350 L229 353.5 L223 352Z" fill="#fff"/><path d="M261 351.5 L264 351 L265 355 L262 355Z" fill="#fff"/><path d="M182 186 L186.5 184.5 L188 187 L184 189.5Z" fill="#fff"/><path d="M191.2 190.8 L195 191.2 L200.6 196.4 L199.2 197.3 L194 193.1Z" fill="#fff"/><path d="M186.6 275.5 L195 274.8 L203 273.4 L205.3 274.6 L200 277.3 L192 276.6 L187 278.1Z" fill="#fff"/></g>
<g id="PathCollection_1"/>
<g id="PathCollection_2"/>
<g id="matplotlib.axis_1">
<g id="xtick_1">
<g id="line2d_1">
<defs>
<path id="mfeff468e04" d="M 0 0 
L 0 3.5 
" style="stroke: #000000; stroke-width: 0.8"/>
</defs>
<g>
<use href="#mfeff468e04" x="60.1200" y="307.8000" style="stroke: #000000; stroke-width: 0.8"/>
</g>
</g>
<g id="text_1">
<!-- −200 -->
<g transform="translate(45.882406 322.182437) scale(0.1 -0.1)">
<defs>
<path id="DejaVuSans-2212" d="M 678 2272 
L 4684 2272 
L 4684 1741 
L 678 1741 
L 678 2272 
z
" transform="scale(0.015625)"/>
<path id="DejaVuSans-32" d="M 1228 531 
L 3431 531 
L 3431 0 
L 469 0 
L 469 531 
Q 828 903 1448 1529 
Q 2069 2156 2228 2338 
Q 2531 2678 2651 2914 
Q 2772 3150 2772 3378 
Q 2772 3750 2511 3984 
Q 2250 4219 1831 4219 
Q 1534 4219 1204 4116 
Q 875 4013 500 3803 
L 500 4441 
Q 881 4594 1212 4672 
Q 1544 4750 1819 4750 
Q 2544 4750 2975 4387 
Q 3406 4025 3406 3419 
Q 3406 3131 3298 2873 
Q 3191 2616 2906 2266 
Q 2828 2175 2409 1742 
Q 1991 1309 1228 531 
z
" transform="scale(0.015625)"/>
<path id="DejaVuSans-30" d="M 2034 4250 
Q 1547 4250 1301 3770 
Q 1056 3291 1056 2328 
Q 1056 1369 1301 889 
Q 1547 409 2034 409 
Q 2525 409 2770 889 
Q 3016 1369 3016 2328 
Q 3016 3291 2770 3770 
Q 2525 4250 2034 4250 
z
M 2034 4750 
Q 2819 4750 3233 4129 
Q 3647 3509 3647 2328 
Q 3647 1150 3233 529 
Q 2819 -91 2034 -91 
Q 1250 -91 836 529 
Q 422 1150 422 2328 
Q 422 3509 836 4129 
Q 1250 4750 2034 4750 
z
" transform="scale(0.015625)"/>
</defs>
<use href="#DejaVuSans-2212"/>
<use href="#DejaVuSans-32" transform="translate(83.789062 0)"/>
<use href="#DejaVuSans-30" transform="translate(147.412109 0)"/>
<use href="#DejaVuSans-30" transform="translate(211.035156 0)"/>
</g>
</g>
</g>
<g id="xtick_2">
<g id="line2d_2">
<g>
<use href="#mfeff468e04" x="136.4400" y="307.8000" style="stroke: #000000; stroke-width: 0.8"/>
</g>
</g>
<g id="text_2">
<!-- −100 -->
<g transform="translate(122.634406 322.182437) scale(0.1 -0.1)">
<defs>
<path id="DejaVuSans-31" d="M 794 531 
L 1825 531 
L 1825 4091 
L 703 3866 
L 703 4441 
L 1819 4666 
L 2450 4666 
L 2450 531 
L 3481 531 
L 3481 0 
L 794 0 
L 794 531 
z
" transform="scale(0.015625)"/>
</defs>
<use href="#DejaVuSans-2212"/>
<use href="#DejaVuSans-31" transform="translate(83.789062 0)"/>
<use href="#DejaVuSans-30" transform="translate(147.412109 0)"/>
<use href="#DejaVuSans-30" transform="translate(211.035156 0)"/>
</g>
</g>
</g>
<g id="xtick_3">
<g id="line2d_3">
<g>
<use href="#mfeff468e04" x="213.4800" y="307.8000" style="stroke: #000000; stroke-width: 0.8"/>
</g>
</g>
<g id="text_3">
<!-- 0 -->
<g transform="translate(209.93875 322.182437) scale(0.1 -0.1)">
<use href="#DejaVuSans-30"/>
</g>
</g>
</g>
<g id="xtick_4">
<g id="line2d_4">
<g>
<use href="#mfeff468e04" x="290.5200" y="307.8000" style="stroke: #000000; stroke-width: 0.8"/>
</g>
</g>
<g id="text_4">
<!-- 100 -->
<g transform="translate(280.32825 322.182437) scale(0.1 -0.1)">
<use href="#DejaVuSans-31"/>
<use href="#DejaVuSans-30" transform="translate(63.623047 0)"/>
<use href="#DejaVuSans-30" transform="translate(127.246094 0)"/>
</g>
</g>
</g>
<g id="xtick_5">
<g id="line2d_5">
<g>
<use href="#mfeff468e04" x="366.8400" y="307.8000" style="stroke: #000000; stroke-width: 0.8"/>
</g>
</g>
<g id="text_5">
<!-- 200 -->
<g transform="translate(357.08025 322.182437) scale(0.1 -0.1)">
<use href="#DejaVuSans-32"/>
<use href="#DejaVuSans-30" transform="translate(63.623047 0)"/>
<use href="#DejaVuSans-30" transform="translate(127.246094 0)"/>
</g>
</g>
</g>
</g>
<g id="matplotlib.axis_2">
<g id="ytick_1">
<g id="line2d_6">
<defs>
<path id="m7bc28b86e4" d="M 0 0 
L -3.5 0 
" style="stroke: #000000; stroke-width: 0.8"/>
</defs>
<g>
<use href="#m7bc28b86e4" x="57.9600" y="266.7600" style="stroke: #000000; stroke-width: 0.8"/>
</g>
</g>
<g id="text_6">
<!-- −100 -->
<g transform="translate(23.132812 270.343219) scale(0.1 -0.1)">
<use href="#DejaVuSans-2212"/>
<use href="#DejaVuSans-31" transform="translate(83.789062 0)"/>
<use href="#DejaVuSans-30" transform="translate(147.412109 0)"/>
<use href="#DejaVuSans-30" transform="translate(211.035156 0)"/>
</g>
</g>
</g>
<g id="ytick_2">
<g id="line2d_7">
<g>
<use href="#m7bc28b86e4" x="57.9600" y="224.2800" style="stroke: #000000; stroke-width: 0.8"/>
</g>
</g>
<g id="text_7">
<!-- −50 -->
<g transform="translate(29.495313 227.521219) scale(0.1 -0.1)">
<defs>
<path id="DejaVuSans-35" d="M 691 4666 
L 3169 4666 
L 3169 4134 
L 1269 4134 
L 1269 2991 
Q 1406 3038 1543 3061 
Q 1681 3084 1819 3084 
Q 2600 3084 3056 2656 
Q 3513 2228 3513 1497 
Q 3513 744 3044 326 
Q 2575 -91 1722 -91 
Q 1428 -91 1123 -41 
Q 819 9 494 109 
L 494 744 
Q 775 591 1075 516 
Q 1375 441 1709 441 
Q 2250 441 2565 725 
Q 2881 1009 2881 1497 
Q 2881 1984 2565 2268 
Q 2250 2553 1709 2553 
Q 1456 2553 1204 2497 
Q 953 2441 691 2322 
L 691 4666 
z
" transform="scale(0.015625)"/>
</defs>
<use href="#DejaVuSans-2212"/>
<use href="#DejaVuSans-35" transform="translate(83.789062 0)"/>
<use href="#DejaVuSans-30" transform="translate(147.412109 0)"/>
</g>
</g>
</g>
<g id="ytick_3">
<g id="line2d_8">
<g>
<use href="#m7bc28b86e4" x="57.9600" y="181.0800" style="stroke: #000000; stroke-width: 0.8"/>
</g>
</g>
<g id="text_8">
<!-- 0 -->
<g transform="translate(44.2375 184.699219) scale(0.1 -0.1)">
<use href="#DejaVuSans-30"/>
</g>
</g>
</g>
<g id="ytick_4">
<g id="line2d_9">
<g>
<use href="#m7bc28b86e4" x="57.9600" y="138.6000" style="stroke: #000000; stroke-width: 0.8"/>
</g>
</g>
<g id="text_9">
<!-- 50 -->
<g transform="translate(37.875 141.877219) scale(0.1 -0.1)">
<use href="#DejaVuSans-35"/>
<use href="#DejaVuSans-30" transform="translate(63.623047 0)"/>
</g>
</g>
</g>
<g id="ytick_5">
<g id="line2d_10">
<g>
<use href="#m7bc28b86e4" x="57.9600" y="95.4000" style="stroke: #000000; stroke-width: 0.8"/>
</g>
</g>
<g id="text_10">
<!-- 100 -->
<g transform="translate(31.5125 99.055219) scale(0.1 -0.1)">
<use href="#DejaVuSans-31"/>
<use href="#DejaVuSans-30" transform="translate(63.623047 0)"/>
<use href="#DejaVuSans-30" transform="translate(127.246094 0)"/>
</g>
</g>
</g>
<g id="ytick_6">
<g id="line2d_11">
<g>
<use href="#m7bc28b86e4" x="57.9600" y="52.9200" style="stroke: #000000; stroke-width: 0.8"/>
</g>
</g>
<g id="text_11">
<!-- 150 -->
<g transform="translate(31.5125 56.233219) scale(0.1 -0.1)">
<use href="#DejaVuSans-31"/>
<use href="#DejaVuSans-35" transform="translate(63.623047 0)"/>
<use href="#DejaVuSans-30" transform="translate(127.246094 0)"/>
</g>
</g>
</g>
</g>
<g id="patch_3">
<path d="M 57.9600 307.8000 
L 57.9600 42.1200 
" style="fill: none; stroke: #000000; stroke-width: 0.8; stroke-linejoin: miter; stroke-linecap: square"/>
</g>
<g id="patch_4">
<path d="M 415.0800 307.8000 
L 415.0800 42.1200 
" style="fill: none; stroke: #000000; stroke-width: 0.8; stroke-linejoin: miter; stroke-linecap: square"/>
</g>
<g id="patch_5">
<path d="M 57.9600 307.8000 
L 415.0800 307.8000 
" style="fill: none; stroke: #000000; stroke-width: 0.8; stroke-linejoin: miter; stroke-linecap: square"/>
</g>
<g id="patch_6">
<path d="M 57.9600 42.1200 
L 415.0800 42.1200 
" style="fill: none; stroke: #000000; stroke-width: 0.8; stroke-linejoin: miter; stroke-linecap: square"/>
</g>
<g id="text_12" transform="matrix(1.0088 0 0 1 -1.571 -0.47)">
<!-- T-SNE - 'cuhk-cufsf' -->
<g transform="translate(178.517812 35.472) scale(0.12 -0.12)">
<defs>
<path id="DejaVuSans-54" d="M -19 4666 
L 3928 4666 
L 3928 4134 
L 2272 4134 
L 2272 0 
L 1638 0 
L 1638 4134 
L -19 4134 
L -19 4666 
z
" transform="scale(0.015625)"/>
<path id="DejaVuSans-2d" d="M 313 2009 
L 1997 2009 
L 1997 1497 
L 313 1497 
L 313 2009 
z
" transform="scale(0.015625)"/>
<path id="DejaVuSans-53" d="M 3425 4513 
L 3425 3897 
Q 3066 4069 2747 4153 
Q 2428 4238 2131 4238 
Q 1616 4238 1336 4038 
Q 1056 3838 1056 3469 
Q 1056 3159 1242 3001 
Q 1428 2844 1947 2747 
L 2328 2669 
Q 3034 2534 3370 2195 
Q 3706 1856 3706 1288 
Q 3706 609 3251 259 
Q 2797 -91 1919 -91 
Q 1588 -91 1214 -16 
Q 841 59 441 206 
L 441 856 
Q 825 641 1194 531 
Q 1563 422 1919 422 
Q 2459 422 2753 634 
Q 3047 847 3047 1241 
Q 3047 1584 2836 1778 
Q 2625 1972 2144 2069 
L 1759 2144 
Q 1053 2284 737 2584 
Q 422 2884 422 3419 
Q 422 4038 858 4394 
Q 1294 4750 2059 4750 
Q 2388 4750 2728 4690 
Q 3069 4631 3425 4513 
z
" transform="scale(0.015625)"/>
<path id="DejaVuSans-4e" d="M 628 4666 
L 1478 4666 
L 3547 763 
L 3547 4666 
L 4159 4666 
L 4159 0 
L 3309 0 
L 1241 3903 
L 1241 0 
L 628 0 
L 628 4666 
z
" transform="scale(0.015625)"/>
<path id="DejaVuSans-45" d="M 628 4666 
L 3578 4666 
L 3578 4134 
L 1259 4134 
L 1259 2753 
L 3481 2753 
L 3481 2222 
L 1259 2222 
L 1259 531 
L 3634 531 
L 3634 0 
L 628 0 
L 628 4666 
z
" transform="scale(0.015625)"/>
<path id="DejaVuSans-20" transform="scale(0.015625)"/>
<path id="DejaVuSans-27" d="M 1147 4666 
L 1147 2931 
L 616 2931 
L 616 4666 
L 1147 4666 
z
" transform="scale(0.015625)"/>
<path id="DejaVuSans-63" d="M 3122 3366 
L 3122 2828 
Q 2878 2963 2633 3030 
Q 2388 3097 2138 3097 
Q 1578 3097 1268 2742 
Q 959 2388 959 1747 
Q 959 1106 1268 751 
Q 1578 397 2138 397 
Q 2388 397 2633 464 
Q 2878 531 3122 666 
L 3122 134 
Q 2881 22 2623 -34 
Q 2366 -91 2075 -91 
Q 1284 -91 818 406 
Q 353 903 353 1747 
Q 353 2603 823 3093 
Q 1294 3584 2113 3584 
Q 2378 3584 2631 3529 
Q 2884 3475 3122 3366 
z
" transform="scale(0.015625)"/>
<path id="DejaVuSans-75" d="M 544 1381 
L 544 3500 
L 1119 3500 
L 1119 1403 
Q 1119 906 1312 657 
Q 1506 409 1894 409 
Q 2359 409 2629 706 
Q 2900 1003 2900 1516 
L 2900 3500 
L 3475 3500 
L 3475 0 
L 2900 0 
L 2900 538 
Q 2691 219 2414 64 
Q 2138 -91 1772 -91 
Q 1169 -91 856 284 
Q 544 659 544 1381 
z
M 1991 3584 
L 1991 3584 
z
" transform="scale(0.015625)"/>
<path id="DejaVuSans-68" d="M 3513 2113 
L 3513 0 
L 2938 0 
L 2938 2094 
Q 2938 2591 2744 2837 
Q 2550 3084 2163 3084 
Q 1697 3084 1428 2787 
Q 1159 2491 1159 1978 
L 1159 0 
L 581 0 
L 581 4863 
L 1159 4863 
L 1159 2956 
Q 1366 3272 1645 3428 
Q 1925 3584 2291 3584 
Q 2894 3584 3203 3211 
Q 3513 2838 3513 2113 
z
" transform="scale(0.015625)"/>
<path id="DejaVuSans-6b" d="M 581 4863 
L 1159 4863 
L 1159 1991 
L 2875 3500 
L 3609 3500 
L 1753 1863 
L 3688 0 
L 2938 0 
L 1159 1709 
L 1159 0 
L 581 0 
L 581 4863 
z
" transform="scale(0.015625)"/>
<path id="DejaVuSans-66" d="M 2375 4863 
L 2375 4384 
L 1825 4384 
Q 1516 4384 1395 4259 
Q 1275 4134 1275 3809 
L 1275 3500 
L 2222 3500 
L 2222 3053 
L 1275 3053 
L 1275 0 
L 697 0 
L 697 3053 
L 147 3053 
L 147 3500 
L 697 3500 
L 697 3744 
Q 697 4328 969 4595 
Q 1241 4863 1831 4863 
L 2375 4863 
z
" transform="scale(0.015625)"/>
<path id="DejaVuSans-73" d="M 2834 3397 
L 2834 2853 
Q 2591 2978 2328 3040 
Q 2066 3103 1784 3103 
Q 1356 3103 1142 2972 
Q 928 2841 928 2578 
Q 928 2378 1081 2264 
Q 1234 2150 1697 2047 
L 1894 2003 
Q 2506 1872 2764 1633 
Q 3022 1394 3022 966 
Q 3022 478 2636 193 
Q 2250 -91 1575 -91 
Q 1294 -91 989 -36 
Q 684 19 347 128 
L 347 722 
Q 666 556 975 473 
Q 1284 391 1588 391 
Q 1994 391 2212 530 
Q 2431 669 2431 922 
Q 2431 1156 2273 1281 
Q 2116 1406 1581 1522 
L 1381 1569 
Q 847 1681 609 1914 
Q 372 2147 372 2553 
Q 372 3047 722 3315 
Q 1072 3584 1716 3584 
Q 2034 3584 2315 3537 
Q 2597 3491 2834 3397 
z
" transform="scale(0.015625)"/>
</defs>
<use href="#DejaVuSans-54"/>
<use href="#DejaVuSans-2d" transform="translate(51.958984 0)"/>
<use href="#DejaVuSans-53" transform="translate(88.042969 0)"/>
<use href="#DejaVuSans-4e" transform="translate(151.519531 0)"/>
<use href="#DejaVuSans-45" transform="translate(226.324219 0)"/>
<use href="#DejaVuSans-20" transform="translate(289.507812 0)"/>
<use href="#DejaVuSans-2d" transform="translate(321.294922 0)"/>
<use href="#DejaVuSans-20" transform="translate(357.378906 0)"/>
<use href="#DejaVuSans-27" transform="translate(389.166016 0)"/>
<use href="#DejaVuSans-63" transform="translate(416.65625 0)"/>
<use href="#DejaVuSans-75" transform="translate(471.636719 0)"/>
<use href="#DejaVuSans-68" transform="translate(535.015625 0)"/>
<use href="#DejaVuSans-6b" transform="translate(598.394531 0)"/>
<use href="#DejaVuSans-2d" transform="translate(656.304688 0)"/>
<use href="#DejaVuSans-63" transform="translate(692.388672 0)"/>
<use href="#DejaVuSans-75" transform="translate(747.369141 0)"/>
<use href="#DejaVuSans-66" transform="translate(810.748047 0)"/>
<use href="#DejaVuSans-73" transform="translate(845.953125 0)"/>
<use href="#DejaVuSans-66" transform="translate(898.052734 0)"/>
<use href="#DejaVuSans-27" transform="translate(933.257812 0)"/>
</g>
</g>
<g id="legend_1" transform="matrix(1 0 0 1.0222 0.36 -0.311)">
<g id="patch_7">
<path d="M 64.6 78.82825 
L 129.75 78.82825 
Q 131.75 78.82825 131.75 76.82825 
L 131.75 48.472 
Q 131.75 46.472 129.75 46.472 
L 64.6 46.472 
Q 62.6 46.472 62.6 48.472 
L 62.6 76.82825 
Q 62.6 78.82825 64.6 78.82825 
z
" style="fill: #ffffff; opacity: 0.8; stroke: #cccccc; stroke-linejoin: miter"/>
</g>
<g id="PathCollection_3" transform="translate(0 -0.6)">
<defs>
<path id="mff9dbeeba1" d="M 0 3 
C 0.795609 3 1.55874 2.683901 2.12132 2.12132 
C 2.683901 1.55874 3 0.795609 3 0 
C 3 -0.795609 2.683901 -1.55874 2.12132 -2.12132 
C 1.55874 -2.683901 0.795609 -3 0 -3 
C -0.795609 -3 -1.55874 -2.683901 -2.12132 -2.12132 
C -2.683901 -1.55874 -3 -0.795609 -3 0 
C -3 0.795609 -2.683901 1.55874 -2.12132 2.12132 
C -1.55874 2.683901 -0.795609 3 0 3 
z
" style="stroke: #5f9ea0"/>
</defs>
<g>
<use href="#mff9dbeeba1" x="76.6" y="55.445437" style="fill: #5f9ea0; stroke: #5f9ea0"/>
</g>
</g>
<g id="text_13" transform="translate(0 -0.8)">
<!-- photo -->
<g transform="translate(94.6 58.070437) scale(0.1 -0.1)">
<defs>
<path id="DejaVuSans-70" d="M 1159 525 
L 1159 -1331 
L 581 -1331 
L 581 3500 
L 1159 3500 
L 1159 2969 
Q 1341 3281 1617 3432 
Q 1894 3584 2278 3584 
Q 2916 3584 3314 3078 
Q 3713 2572 3713 1747 
Q 3713 922 3314 415 
Q 2916 -91 2278 -91 
Q 1894 -91 1617 61 
Q 1341 213 1159 525 
z
M 3116 1747 
Q 3116 2381 2855 2742 
Q 2594 3103 2138 3103 
Q 1681 3103 1420 2742 
Q 1159 2381 1159 1747 
Q 1159 1113 1420 752 
Q 1681 391 2138 391 
Q 2594 391 2855 752 
Q 3116 1113 3116 1747 
z
" transform="scale(0.015625)"/>
<path id="DejaVuSans-6f" d="M 1959 3097 
Q 1497 3097 1228 2736 
Q 959 2375 959 1747 
Q 959 1119 1226 758 
Q 1494 397 1959 397 
Q 2419 397 2687 759 
Q 2956 1122 2956 1747 
Q 2956 2369 2687 2733 
Q 2419 3097 1959 3097 
z
M 1959 3584 
Q 2709 3584 3137 3096 
Q 3566 2609 3566 1747 
Q 3566 888 3137 398 
Q 2709 -91 1959 -91 
Q 1206 -91 779 398 
Q 353 888 353 1747 
Q 353 2609 779 3096 
Q 1206 3584 1959 3584 
z
" transform="scale(0.015625)"/>
<path id="DejaVuSans-74" d="M 1172 4494 
L 1172 3500 
L 2356 3500 
L 2356 3053 
L 1172 3053 
L 1172 1153 
Q 1172 725 1289 603 
Q 1406 481 1766 481 
L 2356 481 
L 2356 0 
L 1766 0 
Q 1100 0 847 248 
Q 594 497 594 1153 
L 594 3053 
L 172 3053 
L 172 3500 
L 594 3500 
L 594 4494 
L 1172 4494 
z
" transform="scale(0.015625)"/>
</defs>
<use href="#DejaVuSans-70"/>
<use href="#DejaVuSans-68" transform="translate(63.476562 0)"/>
<use href="#DejaVuSans-6f" transform="translate(126.855469 0)"/>
<use href="#DejaVuSans-74" transform="translate(188.037109 0)"/>
<use href="#DejaVuSans-6f" transform="translate(227.246094 0)"/>
</g>
</g>
<g id="PathCollection_4" transform="translate(0 -0.6)">
<defs>
<path id="m859d7e63de" d="M 0 3 
C 0.795609 3 1.55874 2.683901 2.12132 2.12132 
C 2.683901 1.55874 3 0.795609 3 0 
C 3 -0.795609 2.683901 -1.55874 2.12132 -2.12132 
C 1.55874 -2.683901 0.795609 -3 0 -3 
C -0.795609 -3 -1.55874 -2.683901 -2.12132 -2.12132 
C -2.683901 -1.55874 -3 -0.795609 -3 0 
C -3 0.795609 -2.683901 1.55874 -2.12132 2.12132 
C -1.55874 2.683901 -0.795609 3 0 3 
z
" style="stroke: #cd5c5c"/>
</defs>
<g>
<use href="#m859d7e63de" x="76.6" y="70.123562" style="fill: #cd5c5c; stroke: #cd5c5c"/>
</g>
</g>
<g id="text_14" transform="translate(0 -0.8)">
<!-- sketch -->
<g transform="translate(94.6 72.748562) scale(0.1 -0.1)">
<defs>
<path id="DejaVuSans-65" d="M 3597 1894 
L 3597 1613 
L 953 1613 
Q 991 1019 1311 708 
Q 1631 397 2203 397 
Q 2534 397 2845 478 
Q 3156 559 3463 722 
L 3463 178 
Q 3153 47 2828 -22 
Q 2503 -91 2169 -91 
Q 1331 -91 842 396 
Q 353 884 353 1716 
Q 353 2575 817 3079 
Q 1281 3584 2069 3584 
Q 2775 3584 3186 3129 
Q 3597 2675 3597 1894 
z
M 3022 2063 
Q 3016 2534 2758 2815 
Q 2500 3097 2075 3097 
Q 1594 3097 1305 2825 
Q 1016 2553 972 2059 
L 3022 2063 
z
" transform="scale(0.015625)"/>
</defs>
<use href="#DejaVuSans-73"/>
<use href="#DejaVuSans-6b" transform="translate(52.099609 0)"/>
<use href="#DejaVuSans-65" transform="translate(106.384766 0)"/>
<use href="#DejaVuSans-74" transform="translate(167.908203 0)"/>
<use href="#DejaVuSans-63" transform="translate(207.117188 0)"/>
<use href="#DejaVuSans-68" transform="translate(262.097656 0)"/>
</g>
</g>
</g>
</g>
</g>
</svg>

</body></html>
